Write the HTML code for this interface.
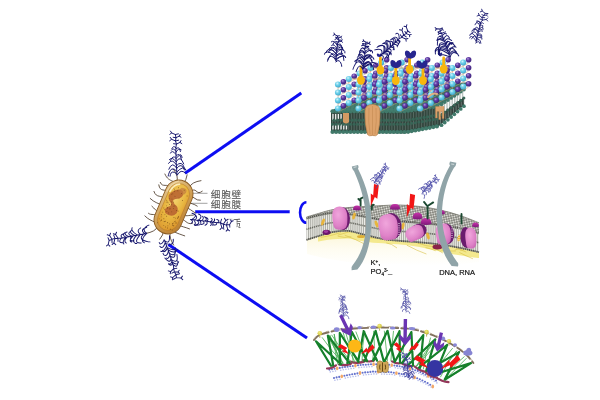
<!DOCTYPE html>
<html lang="zh"><head><meta charset="utf-8"><title>抗菌机制示意图</title>
<style>
html,body{margin:0;padding:0;background:#fff;}
body{width:600px;height:400px;overflow:hidden;font-family:"Liberation Sans","Noto Sans CJK SC",sans-serif;}
svg{display:block}
.lab{font-family:"Liberation Sans","Noto Sans CJK SC",sans-serif;font-size:9.6px;letter-spacing:0.75px;fill:#585858;stroke:#585858;stroke-width:0.12px;}
.ion{font-family:"Liberation Sans","Noto Sans CJK SC",sans-serif;font-size:7.5px;fill:#1c1c1c;stroke:#1c1c1c;stroke-width:0.22px;}
</style></head><body>
<svg width="600" height="400" viewBox="0 0 600 400">
<defs>
<filter id="soft" x="0" y="0" width="600" height="400" filterUnits="userSpaceOnUse"><feGaussianBlur stdDeviation="0.45"/></filter>
<clipPath id="clip3"><path d="M236.6 216h7v13h-7zM233.6 216h4v4.6h-4z"/></clipPath>
<linearGradient id="bacOuter" x1="0" y1="0" x2="1" y2="1">
<stop offset="0" stop-color="#e6cc98"/><stop offset="0.5" stop-color="#d0a055"/><stop offset="1" stop-color="#b87a2a"/>
</linearGradient>
<radialGradient id="bacInner" cx="0.45" cy="0.35" r="0.75">
<stop offset="0" stop-color="#f2d06a"/><stop offset="0.55" stop-color="#e8b640"/><stop offset="1" stop-color="#d8902a"/>
</radialGradient>
<radialGradient id="sc" cx="0.38" cy="0.32" r="0.75">
<stop offset="0" stop-color="#d4f4fc"/><stop offset="0.4" stop-color="#6cd0ea"/><stop offset="1" stop-color="#3aa2c8"/>
</radialGradient>
<radialGradient id="sp" cx="0.38" cy="0.32" r="0.75">
<stop offset="0" stop-color="#b39ade"/><stop offset="0.35" stop-color="#6440a8"/><stop offset="1" stop-color="#351a70"/>
</radialGradient>
<radialGradient id="pink" cx="0.4" cy="0.35" r="0.8">
<stop offset="0" stop-color="#f0a6dc"/><stop offset="0.6" stop-color="#df83c8"/><stop offset="1" stop-color="#c25fae"/>
</radialGradient>
<linearGradient id="mag" x1="0" y1="0" x2="0" y2="1">
<stop offset="0" stop-color="#c934ac"/><stop offset="1" stop-color="#7c1a78"/>
</linearGradient>
<linearGradient id="cream" x1="0" y1="0" x2="0" y2="1">
<stop offset="0" stop-color="#fbf5d4"/><stop offset="0.5" stop-color="#fefcf0"/><stop offset="1" stop-color="#ffffff"/>
</linearGradient>
<pattern id="hatch" width="2.4" height="2.4" patternUnits="userSpaceOnUse" patternTransform="rotate(-12)">
<rect width="2.4" height="2.4" fill="#7a7b73"/><circle cx="1.2" cy="1.2" r="0.9" fill="#f0f0ea"/>
</pattern>
<radialGradient id="yel" cx="0.4" cy="0.35" r="0.7">
<stop offset="0" stop-color="#f2ec80"/><stop offset="1" stop-color="#c9bb2e"/>
</radialGradient>

</defs>
<rect width="600" height="400" fill="#fff"/>
<g filter="url(#soft)">
<g stroke="#0b0bf2" stroke-width="3" fill="none" stroke-linecap="butt"><path d="M185 173.3L301.3 93"/><path d="M195.2 211.7H289.7"/><path d="M168.4 244.4L307 338"/><path d="M306.4 202.2A6.4 10.3 0 0 0 306.4 222.8" stroke-width="2.5"/></g>
<path d="M189 193.3H207.5M190 203.3H207.5" stroke="#8a8a8a" stroke-width="0.8" fill="none"/>
<text x="210.8" y="197.6" class="lab">细胞壁</text><text x="210.8" y="207.9" class="lab">细胞膜</text>
<g clip-path="url(#clip3)"><text x="210.8" y="227.4" class="lab">细胞质</text></g>
<path d="M227 219.2h5.5" stroke="#b0b0b0" stroke-width="0.7"/>
<g transform="translate(173.5 207) rotate(23)">
<path d="M-11 -23.4c-3.4 -0.1 -5.9 0.1 -9.8 -3.6M-11 -16.5c-3.8 -3.7 -6.5 3.7 -10.8 -1M-11 -11.1c-3.9 -3.6 -6.7 3.6 -11.2 -3.5M-11 -4c-4.6 -3.3 -7.9 3.3 -13.1 -2.7M-11 2.9c-4.8 -0.5 -8.2 0.5 -13.7 -1.6M-11 10c-3.2 1.2 -5.5 -1.2 -9.2 -2.3M-11 14.7c-3.4 -2.1 -5.8 2.1 -9.6 0.9M-11 21.2c-4.2 -0.2 -7.1 0.2 -11.9 -1.8M11 -22.9c3.3 -3.6 5.6 3.6 9.3 -2.8M11 -16.2c3.9 -2.1 6.7 2.1 11.1 -0.5M11 -10.3c3.7 0.8 6.3 -0.8 10.5 0.2M11 -4.3c4.2 -0.8 7.1 0.8 11.9 1.3M11 3.1c3.7 1.9 6.3 -1.9 10.4 -3.3M11 8.8c4.5 -3.1 7.7 3.1 12.8 -1.1M11 14.5c4.3 0.6 7.4 -0.6 12.3 -0.6M11 22.6c3.7 0.2 6.3 -0.2 10.6 -0.4M-7 -25q0.3 -5 -8 -10M-7 25q-0.2 5 -8 10M0 -25q1.4 -5 0 -10M0 25q1.8 5 0 10M7 -25q-0.1 -5 8 -10M7 25q0.7 5 8 10" fill="none" stroke="#4a3a2a" stroke-width="0.75" stroke-linecap="round"/>
<rect x="-14" y="-28" width="28" height="56" rx="14" fill="url(#bacOuter)" stroke="#8a5a20" stroke-width="0.9"/>
<rect x="-10.6" y="-24.6" width="21.2" height="49.2" rx="10.6" fill="url(#bacInner)" stroke="#b87a24" stroke-width="0.5"/>
<path transform="translate(0 -3) scale(1.3)" d="M-4 -10q5 -4 7 0q1 4 -4 6q-3 2 1 4q5 1 4 6q-2 5 -8 3q-3 -3 1 -6q2 -2 -2 -4q-4 -4 1 -9z" fill="#b1562a" opacity="0.78"/>
<path d="M0 -21q6 -2 6 3q-1 4 -5 3q-4 -2 -1 -6z" fill="#c27a3e" opacity="0.7"/>
<g fill="#6a3e10" opacity="0.75"><circle cx="-7.9" cy="8.9" r="0.45"/><circle cx="2.6" cy="21.7" r="0.45"/><circle cx="5.8" cy="-9.5" r="0.45"/><circle cx="-2.1" cy="7.4" r="0.45"/><circle cx="-8.6" cy="-1.7" r="0.45"/><circle cx="-6" cy="-16.8" r="0.45"/><circle cx="-7.9" cy="11.8" r="0.45"/><circle cx="-6.7" cy="-11.1" r="0.45"/><circle cx="-2" cy="16.3" r="0.45"/><circle cx="-7.5" cy="-2.2" r="0.45"/><circle cx="0.9" cy="16.9" r="0.45"/><circle cx="5.7" cy="16" r="0.45"/><circle cx="-4" cy="-3.7" r="0.45"/><circle cx="-2.5" cy="16.9" r="0.45"/><circle cx="8.2" cy="-15.4" r="0.45"/><circle cx="-5.8" cy="-11.8" r="0.45"/><circle cx="-4.8" cy="-0.7" r="0.45"/><circle cx="1.6" cy="-10.4" r="0.45"/><circle cx="-8.9" cy="-3.6" r="0.45"/><circle cx="-2.4" cy="2.9" r="0.45"/><circle cx="8.2" cy="8.4" r="0.45"/><circle cx="0.3" cy="5.2" r="0.45"/><circle cx="3.2" cy="-19.6" r="0.45"/><circle cx="7.2" cy="12.3" r="0.45"/><circle cx="6.7" cy="13.1" r="0.45"/><circle cx="-1.9" cy="-4.4" r="0.45"/><circle cx="-7.1" cy="5.9" r="0.45"/><circle cx="-7.9" cy="-19" r="0.45"/><circle cx="-5.2" cy="-14.9" r="0.45"/><circle cx="-2.9" cy="-19.7" r="0.45"/><circle cx="-9" cy="-15.3" r="0.45"/><circle cx="-7.2" cy="-6" r="0.45"/><circle cx="-8.5" cy="16.5" r="0.45"/><circle cx="2.1" cy="-15.5" r="0.45"/><circle cx="-4.5" cy="-6.7" r="0.45"/><circle cx="-2.4" cy="-16.6" r="0.45"/><circle cx="6.3" cy="21.7" r="0.45"/><circle cx="-0.6" cy="-0.7" r="0.45"/><circle cx="-7.5" cy="-17.5" r="0.45"/><circle cx="-2.8" cy="-10.4" r="0.45"/><circle cx="5.9" cy="1.9" r="0.45"/><circle cx="-8.6" cy="20.8" r="0.45"/><circle cx="0.5" cy="1.5" r="0.45"/><circle cx="0.8" cy="-1.4" r="0.45"/><circle cx="0.5" cy="21.5" r="0.45"/><circle cx="6.5" cy="14.7" r="0.45"/><circle cx="-4.3" cy="6.8" r="0.45"/><circle cx="-6" cy="16.5" r="0.45"/><circle cx="0.6" cy="16.7" r="0.45"/><circle cx="-3.1" cy="3.4" r="0.45"/><circle cx="5.6" cy="21.6" r="0.45"/><circle cx="6.3" cy="17.3" r="0.45"/><circle cx="5.7" cy="15.8" r="0.45"/><circle cx="-4.9" cy="10.4" r="0.45"/><circle cx="-2.6" cy="-1.3" r="0.45"/><circle cx="-8.5" cy="4.7" r="0.45"/><circle cx="-4.3" cy="14.6" r="0.45"/><circle cx="8.2" cy="8.7" r="0.45"/><circle cx="7.9" cy="21.7" r="0.45"/><circle cx="8.2" cy="6.8" r="0.45"/><circle cx="-5" cy="3.4" r="0.45"/><circle cx="-5.5" cy="2.9" r="0.45"/><circle cx="2.2" cy="19.6" r="0.45"/><circle cx="6.1" cy="9.5" r="0.45"/><circle cx="2.8" cy="17.2" r="0.45"/><circle cx="-7.5" cy="13.9" r="0.45"/><circle cx="7.4" cy="16.8" r="0.45"/><circle cx="4.5" cy="9.5" r="0.45"/><circle cx="-5.8" cy="16.9" r="0.45"/><circle cx="-3" cy="17.2" r="0.45"/><circle cx="8.5" cy="7.5" r="0.45"/><circle cx="-1.8" cy="20.7" r="0.45"/><circle cx="4" cy="2.1" r="0.45"/><circle cx="-6.7" cy="1.6" r="0.45"/><circle cx="7.3" cy="17.4" r="0.45"/><circle cx="-6.4" cy="17.8" r="0.45"/><circle cx="8.6" cy="13.8" r="0.45"/><circle cx="-2.7" cy="11.2" r="0.45"/><circle cx="-6.6" cy="-1.7" r="0.45"/><circle cx="8.5" cy="13.6" r="0.45"/></g>
<path d="M-9.4 -13q1 -8 6 -10.4" fill="none" stroke="#fff6cc" stroke-width="1.7" stroke-linecap="round" opacity="0.85"/>
<path d="M-12.3 -12q0.6 -9 7 -14" fill="none" stroke="#f3dcae" stroke-width="1.1" stroke-linecap="round" opacity="0.8"/>
</g>
<path transform="translate(177 174.5) rotate(-2)" d="M0 0Q-0.8 -13.6 -0.2 -27.2M0 -0.4Q-5 -5.3 -6.7 0l-0.3 1.5M0 0.8Q4.2 -6.2 8.3 -1.1M-0.1 -3.4Q-5.6 -9.6 -8.5 -0.3l-0.3 1.5M-0.1 -2.5Q6.9 -9.5 9.1 -4.4M-0.2 -6.4Q-4.3 -13.9 -8 -5.5M-0.2 -6Q5 -12.7 7.5 -4.4M-0.2 -9.6Q-4.3 -16.9 -8.1 -11.4M-0.2 -8.8Q5.1 -14.8 7.9 -5.6l0.3 1.5M-0.3 -12.8Q-4.2 -18.4 -7.1 -15.2M-0.3 -12.9Q4 -20 7.1 -10.3M-0.3 -16.1Q-3.3 -20.4 -6.1 -14.2M-0.3 -16Q4.6 -22 5.3 -18.2l0.3 1.5M-0.3 -20.1Q-4 -25.5 -5.8 -21.6M-0.3 -18.4Q3.1 -22.8 4.7 -15.9l0.3 1.5M-0.3 -23.3Q-2.7 -27.5 -4.7 -24.5M-0.3 -22.2Q2.3 -26.9 5 -24.7M-0.2 -26.7Q-2.6 -29.9 -4.3 -25.9M-0.2 -25.5Q2.7 -28.5 3.9 -24.3l0.3 1.5M-0.2 -27.2l0.7 -3.2l3.6 -1.6l1.1 -1.8m-1.1 1.8l1.8 1.3M0.5 -30.4l-2.9 -0.5M0.5 -30.4l-0.8 -3.2l-3.9 -1.8l-1.2 -1.9m1.2 1.9l-1.9 1.4M-0.3 -33.6l3.1 -0.6M-0.3 -33.6l0.5 -3.2l3.4 -1.5l1 -1.7m-1 1.7l1.7 1.2M0.2 -36.8l-2.7 -0.5M0.2 -36.8l-0.4 -3.2l-3.7 -1.7l-1.1 -1.9m1.1 1.9l-1.9 1.3M-0.2 -40l3 -0.6M-0.2 -40" fill="none" stroke="#18186e" stroke-width="0.95" stroke-linecap="round" stroke-linejoin="round"/>
<path transform="translate(146.5 233.5) rotate(-101)" d="M0 0Q0.4 -12.9 0.1 -25.8M0 0.2Q-5.4 -8.3 -8.8 -3.8M0 0.3Q5.1 -4.7 7.5 2.5l0.3 1.5M0 -3Q-4.4 -10.3 -8.6 0.4l-0.3 1.5M0 -1.6Q5 -6.5 6.1 1.4M0.1 -6.4Q-6.7 -14.9 -8 -8.4l-0.3 1.5M0.1 -5.9Q4.8 -10.3 6.6 -4.6M0.1 -10.1Q-4.6 -16.9 -7.7 -12.8l-0.3 1.5M0.1 -9.2Q6 -15.4 8.4 -13M0.1 -13.6Q-4.3 -19.6 -5.5 -16.1M0.1 -11.8Q4.4 -17.4 6.1 -14.4M0.1 -15.3Q-4.2 -19.6 -5.1 -13.5M0.1 -14.9Q3.3 -20.3 5.8 -14.4M0.1 -19.8Q-2.9 -24.5 -5.6 -21.6M0.1 -17.8Q3.5 -22.9 4.9 -20.3l0.3 1.5M0.1 -21.5Q-3.6 -25.7 -6 -24.2M0.1 -20.9Q2.9 -24.6 4.9 -21.4M0.1 -25.7Q-3.8 -30.6 -4.7 -24.6M0.1 -24.2Q3.4 -27.5 4.1 -22.5M0.1 -25.8l0.7 -3l4.1 -1.8l1.2 -2m-1.2 2l2 1.4M0.8 -28.9l-3.3 -0.6M0.8 -28.9l0.4 -3l-4.2 -1.9l-1.3 -2.1m1.3 2.1l-2.1 1.5M1.2 -31.9l3.4 -0.6M1.2 -31.9l-0.3 -3l4.1 -1.8l1.2 -2.1m-1.2 2.1l2.1 1.4M0.8 -35l-3.3 -0.6M0.8 -35l-0.5 -3l-3.8 -1.7l-1.1 -1.9m1.1 1.9l-1.9 1.3M0.3 -38l3 -0.6M0.3 -38" fill="none" stroke="#18186e" stroke-width="0.95" stroke-linecap="round" stroke-linejoin="round"/>
<path transform="translate(164.5 240.5) rotate(161)" d="M0 0Q-0.8 -13.3 -0.2 -26.5M0 -0.2Q-3.7 -6.2 -6.3 3M0 0.9Q3.2 -2.9 5.4 -1.7l0.3 1.5M-0.1 -3.1Q-7.2 -9 -8.7 -1.6M-0.1 -2.1Q4.5 -8.5 6.3 -4M-0.2 -7.6Q-6 -14 -8.1 -10.6M-0.2 -5.8Q5.2 -10.8 7 -9M-0.2 -9.4Q-4.8 -16.6 -9.2 -12.8M-0.2 -8Q2.6 -11.3 4.8 -10.1l0.3 1.5M-0.3 -13.4Q-3.9 -18.7 -6.8 -14.4l-0.3 1.5M-0.3 -11.1Q2.6 -16.6 5.3 -13.3l0.3 1.5M-0.3 -16.5Q-4 -21.7 -6 -15.1l-0.3 1.5M-0.3 -15.7Q3 -19.4 3.8 -17.2M-0.3 -20.3Q-5.1 -27 -6.9 -18.7l-0.3 1.5M-0.3 -19Q2.4 -24.5 5.4 -16.7M-0.3 -22.7Q-3.6 -28.4 -6.5 -24.8M-0.3 -22Q1.9 -25.4 3.6 -23.3M-0.3 -26Q-3.2 -30.4 -5.5 -25.2l-0.3 1.5M-0.3 -24.3Q2.3 -27 3.9 -23.4M-0.2 -26.5l0.6 -3.1l3.9 -1.8l1.2 -2m-1.2 2l2 1.4M0.4 -29.6l-3.1 -0.6M0.4 -29.6l0.5 -3.1l-3.4 -1.5l-1 -1.7m1 1.7l-1.7 1.2M0.9 -32.8l2.7 -0.5M0.9 -32.8l-0.6 -3.1l3.9 -1.8l1.2 -2m-1.2 2l2 1.4M0.2 -35.9l-3.2 -0.6M0.2 -35.9l0.6 -3.1l-4.1 -1.9l-1.2 -2.1m1.2 2.1l-2.1 1.4M0.8 -39l3.3 -0.6M0.8 -39" fill="none" stroke="#18186e" stroke-width="0.95" stroke-linecap="round" stroke-linejoin="round"/>
<path transform="translate(191 219.5) rotate(97)" d="M0 0Q-0.1 -13.3 0 -26.5M0 -0.6Q-3.8 -5.8 -5.9 -3M0 0.6Q2.1 -3.7 3.9 -0.4M0 -3.5Q-3.2 -8.1 -6 -1.7l-0.3 1.5M0 -2.4Q3.3 -6.4 4.7 -3.8M0 -7.3Q-4 -11.5 -6 -8.2l-0.3 1.5M0 -6.2Q3 -11.2 5.2 -4.1M0 -10.5Q-2.7 -13.4 -4.6 -11M0 -9Q4 -12.9 5.1 -6.4l0.3 1.5M0 -14Q-2.7 -16.9 -4.4 -12.7M0 -11.6Q2.3 -15.7 3.7 -11M-0.1 -15.8Q-2.9 -18.7 -4 -14.1M-0.1 -15.4Q1.9 -18 4 -14.7M-0.1 -19.5Q-2.4 -22.6 -3.6 -19.9M-0.1 -18.8Q1.8 -22 3.6 -20.1M0 -22.1Q-1.7 -24.3 -3.5 -23.2M0 -21.1Q1.8 -23.4 3 -21.9M0 -26.4Q-1.6 -29.2 -2.8 -27.1l-0.3 1.5M0 -25Q1.5 -27.2 2.5 -24.6l0.3 1.5M0 -26.5l-0.3 -3.1l4.5 -2l1.4 -2.3m-1.4 2.3l2.3 1.6M-0.4 -29.6l-3.6 -0.7M-0.4 -29.6l1.2 -3.1l-4.1 -1.9l-1.2 -2.1m1.2 2.1l-2.1 1.5M0.8 -32.8l3.3 -0.6M0.8 -32.8l0.5 -3.1l4 -1.8l1.2 -2m-1.2 2l2 1.4M1.2 -35.9l-3.2 -0.6M1.2 -35.9l-0.9 -3.1l-3.2 -1.4l-1 -1.6m1 1.6l-1.6 1.1M0.4 -39l2.5 -0.5M0.4 -39" fill="none" stroke="#18186e" stroke-width="0.95" stroke-linecap="round" stroke-linejoin="round"/>
<g id="topfig">
<path d="M331 110.5L357 98.5L385 90L470 82L464 89L439 106L405 110.5Z" fill="#3c6e60"/>
<path d="M331 110L405 110.5L439 105.5V126.5L405 133.5L331 132.5Z" fill="#31463e"/>
<path d="M439 105.5L464 89V105L439 126Z" fill="#33433d"/>
<path d="M439 105.5L464 89V97L439 115Z" fill="#b9c3bf"/>
<path d="M332.5 113.3V130M335.2 113.3V130M337.9 113.3V130M340.6 113.3V130M343.3 113.3V130M346 113.3V130M348.7 113.3V130M351.4 113.3V130M354.1 113.3V130M356.8 113.3V130M359.5 113.3V130M362.2 113.3V130M364.9 113.3V130M367.6 113.3V130M370.3 113.3V130M373 113.3V130M375.7 113.3V130M378.4 113.3V130M381.1 113.3V130M383.8 113.3V130M386.5 113.3V130M389.2 113.3V130M391.9 113.3V130M394.6 113.3V130M397.3 113.3V130M400 113.3V130M402.7 113.3V130M405.4 113.2V130.3M408.1 112.8V129.8M410.8 112.4V129.3M413.5 112V128.8M416.2 111.6V128.3M418.9 111.2V127.8M421.6 110.8V127.3M424.3 110.3V126.8M427 109.9V126.3M429.7 109.5V125.8M432.4 109.1V125.2M435.1 108.7V124.7M437.8 108.3V124.2" stroke="#8f9d97" stroke-width="0.9" opacity="0.42"/>
<path d="M333 114V120M333 124V129.5M335.7 114V120M335.7 124V129.5M338.4 114V120M338.4 124V129.5M341.1 114V120M341.1 124V129.5M343.8 114V120M343.8 124V129.5M346.5 114V120M346.5 124V129.5" stroke="#fff" stroke-width="1.3" opacity="0.9"/>
<path d="M440.5 106V114.5M443.1 104.3V112.6M445.7 102.6V110.7M448.3 100.8V108.7M450.9 99.1V106.8M453.5 97.4V104.9M456.1 95.7V103M458.7 94V101.1M461.3 92.2V99.1M463.9 90.5V97.2" stroke="#ffffff" stroke-width="1.2"/>
<path d="M440.5 117V124M443.1 115.1V121.7M445.7 113.2V119.5M448.3 111.2V117.2M450.9 109.3V114.9M453.5 107.4V112.7M456.1 105.5V110.4M458.7 103.6V108.1M461.3 101.6V105.8M463.9 99.7V103.6" stroke="#93a19b" stroke-width="0.9" opacity="0.6"/>
<g fill="#376556"><circle cx="334.1" cy="120.2" r="1.6"/><circle cx="332.5" cy="124.2" r="1.5"/><circle cx="337.7" cy="120.2" r="1.6"/><circle cx="336.1" cy="124.2" r="1.5"/><circle cx="341.3" cy="120.2" r="1.6"/><circle cx="339.7" cy="124.2" r="1.5"/><circle cx="344.9" cy="120.2" r="1.6"/><circle cx="343.3" cy="124.2" r="1.5"/><circle cx="348.5" cy="120.2" r="1.6"/><circle cx="346.9" cy="124.2" r="1.5"/><circle cx="352.1" cy="120.2" r="1.6"/><circle cx="350.5" cy="124.2" r="1.5"/><circle cx="355.7" cy="120.2" r="1.6"/><circle cx="354.1" cy="124.2" r="1.5"/><circle cx="359.3" cy="120.2" r="1.6"/><circle cx="357.7" cy="124.2" r="1.5"/><circle cx="362.9" cy="120.2" r="1.6"/><circle cx="361.3" cy="124.2" r="1.5"/><circle cx="366.5" cy="120.2" r="1.6"/><circle cx="364.9" cy="124.2" r="1.5"/><circle cx="370.1" cy="120.2" r="1.6"/><circle cx="368.5" cy="124.2" r="1.5"/><circle cx="373.7" cy="120.2" r="1.6"/><circle cx="372.1" cy="124.2" r="1.5"/><circle cx="377.3" cy="120.2" r="1.6"/><circle cx="375.7" cy="124.2" r="1.5"/><circle cx="380.9" cy="120.2" r="1.6"/><circle cx="379.3" cy="124.2" r="1.5"/><circle cx="384.5" cy="120.2" r="1.6"/><circle cx="382.9" cy="124.2" r="1.5"/><circle cx="388.1" cy="120.2" r="1.6"/><circle cx="386.5" cy="124.2" r="1.5"/><circle cx="391.7" cy="120.2" r="1.6"/><circle cx="390.1" cy="124.2" r="1.5"/><circle cx="395.3" cy="120.2" r="1.6"/><circle cx="393.7" cy="124.2" r="1.5"/><circle cx="398.9" cy="120.2" r="1.6"/><circle cx="397.3" cy="124.2" r="1.5"/><circle cx="402.5" cy="120.2" r="1.6"/><circle cx="400.9" cy="124.2" r="1.5"/><circle cx="406.1" cy="120.2" r="1.6"/><circle cx="404.5" cy="124.2" r="1.5"/><circle cx="409.7" cy="119.8" r="1.6"/><circle cx="408.1" cy="123.9" r="1.5"/><circle cx="413.3" cy="119.2" r="1.6"/><circle cx="411.7" cy="123.3" r="1.5"/><circle cx="416.9" cy="118.6" r="1.6"/><circle cx="415.3" cy="122.7" r="1.5"/><circle cx="420.5" cy="118" r="1.6"/><circle cx="418.9" cy="122.1" r="1.5"/><circle cx="424.1" cy="117.4" r="1.6"/><circle cx="422.5" cy="121.5" r="1.5"/><circle cx="427.7" cy="116.8" r="1.6"/><circle cx="426.1" cy="120.9" r="1.5"/><circle cx="431.3" cy="116.1" r="1.6"/><circle cx="429.7" cy="120.2" r="1.5"/><circle cx="434.9" cy="115.5" r="1.6"/><circle cx="433.3" cy="119.6" r="1.5"/><circle cx="438.5" cy="114.9" r="1.6"/><circle cx="436.9" cy="119" r="1.5"/><circle cx="441.5" cy="114.7" r="1.5"/><circle cx="444.7" cy="112.3" r="1.5"/><circle cx="447.9" cy="109.9" r="1.5"/><circle cx="451.1" cy="107.5" r="1.5"/><circle cx="454.3" cy="105.1" r="1.5"/><circle cx="457.5" cy="102.7" r="1.5"/><circle cx="460.7" cy="100.3" r="1.5"/><circle cx="463.9" cy="97.9" r="1.5"/></g>
<g fill="#41796a"><circle cx="332.5" cy="111.3" r="2.1"/><circle cx="332.5" cy="132" r="2.1"/><circle cx="336.1" cy="111.3" r="2.1"/><circle cx="336.1" cy="132" r="2.1"/><circle cx="339.7" cy="111.3" r="2.1"/><circle cx="339.7" cy="132" r="2.1"/><circle cx="343.3" cy="111.3" r="2.1"/><circle cx="343.3" cy="132" r="2.1"/><circle cx="346.9" cy="111.3" r="2.1"/><circle cx="346.9" cy="132" r="2.1"/><circle cx="350.5" cy="111.3" r="2.1"/><circle cx="350.5" cy="132" r="2.1"/><circle cx="354.1" cy="111.3" r="2.1"/><circle cx="354.1" cy="132" r="2.1"/><circle cx="357.7" cy="111.3" r="2.1"/><circle cx="357.7" cy="132" r="2.1"/><circle cx="361.3" cy="111.3" r="2.1"/><circle cx="361.3" cy="132" r="2.1"/><circle cx="364.9" cy="111.3" r="2.1"/><circle cx="364.9" cy="132" r="2.1"/><circle cx="368.5" cy="111.3" r="2.1"/><circle cx="368.5" cy="132" r="2.1"/><circle cx="372.1" cy="111.3" r="2.1"/><circle cx="372.1" cy="132" r="2.1"/><circle cx="375.7" cy="111.3" r="2.1"/><circle cx="375.7" cy="132" r="2.1"/><circle cx="379.3" cy="111.3" r="2.1"/><circle cx="379.3" cy="132" r="2.1"/><circle cx="382.9" cy="111.3" r="2.1"/><circle cx="382.9" cy="132" r="2.1"/><circle cx="386.5" cy="111.3" r="2.1"/><circle cx="386.5" cy="132" r="2.1"/><circle cx="390.1" cy="111.3" r="2.1"/><circle cx="390.1" cy="132" r="2.1"/><circle cx="393.7" cy="111.3" r="2.1"/><circle cx="393.7" cy="132" r="2.1"/><circle cx="397.3" cy="111.3" r="2.1"/><circle cx="397.3" cy="132" r="2.1"/><circle cx="400.9" cy="111.3" r="2.1"/><circle cx="400.9" cy="132" r="2.1"/><circle cx="404.5" cy="111.3" r="2.1"/><circle cx="404.5" cy="132" r="2.1"/><circle cx="408.1" cy="110.8" r="2.1"/><circle cx="408.1" cy="131.8" r="2.1"/><circle cx="411.7" cy="110.3" r="2.1"/><circle cx="411.7" cy="131.1" r="2.1"/><circle cx="415.3" cy="109.7" r="2.1"/><circle cx="415.3" cy="130.5" r="2.1"/><circle cx="418.9" cy="109.2" r="2.1"/><circle cx="418.9" cy="129.8" r="2.1"/><circle cx="422.5" cy="108.6" r="2.1"/><circle cx="422.5" cy="129.1" r="2.1"/><circle cx="426.1" cy="108.1" r="2.1"/><circle cx="426.1" cy="128.4" r="2.1"/><circle cx="429.7" cy="107.5" r="2.1"/><circle cx="429.7" cy="127.8" r="2.1"/><circle cx="433.3" cy="107" r="2.1"/><circle cx="433.3" cy="127.1" r="2.1"/><circle cx="436.9" cy="106.4" r="2.1"/><circle cx="436.9" cy="126.4" r="2.1"/><circle cx="441.5" cy="104.2" r="1.9"/><circle cx="441.5" cy="125.2" r="1.9"/><circle cx="444.7" cy="102.1" r="1.9"/><circle cx="444.7" cy="122.5" r="1.9"/><circle cx="447.9" cy="100" r="1.9"/><circle cx="447.9" cy="119.8" r="1.9"/><circle cx="451.1" cy="97.9" r="1.9"/><circle cx="451.1" cy="117" r="1.9"/><circle cx="454.3" cy="95.8" r="1.9"/><circle cx="454.3" cy="114.3" r="1.9"/><circle cx="457.5" cy="93.7" r="1.9"/><circle cx="457.5" cy="111.6" r="1.9"/><circle cx="460.7" cy="91.6" r="1.9"/><circle cx="460.7" cy="108.9" r="1.9"/><circle cx="463.9" cy="89.5" r="1.9"/><circle cx="463.9" cy="106.2" r="1.9"/></g>
<g fill="#457f6f"><circle cx="337.6" cy="109.2" r="1.7"/><circle cx="341.2" cy="109.2" r="1.7"/><circle cx="344.8" cy="109.2" r="1.7"/><circle cx="348.4" cy="109.2" r="1.7"/><circle cx="352" cy="109.2" r="1.7"/><circle cx="355.6" cy="109.2" r="1.7"/><circle cx="359.2" cy="109.2" r="1.7"/><circle cx="362.8" cy="109.2" r="1.7"/><circle cx="366.4" cy="109.2" r="1.7"/><circle cx="370" cy="109.2" r="1.7"/><circle cx="373.6" cy="109.2" r="1.7"/><circle cx="377.2" cy="109.2" r="1.7"/><circle cx="380.8" cy="109.2" r="1.7"/><circle cx="384.4" cy="109.2" r="1.7"/><circle cx="388" cy="109.2" r="1.7"/><circle cx="391.6" cy="109.2" r="1.7"/><circle cx="395.2" cy="109.2" r="1.7"/><circle cx="398.8" cy="109.2" r="1.7"/><circle cx="402.4" cy="109.2" r="1.7"/><circle cx="406" cy="109" r="1.7"/><circle cx="409.6" cy="108.5" r="1.7"/><circle cx="413.2" cy="107.9" r="1.7"/><circle cx="416.8" cy="107.4" r="1.7"/><circle cx="420.4" cy="106.8" r="1.7"/><circle cx="424" cy="106.3" r="1.7"/><circle cx="427.6" cy="105.7" r="1.7"/><circle cx="431.2" cy="105.2" r="1.7"/><circle cx="434.8" cy="104.6" r="1.7"/><circle cx="438.4" cy="104.1" r="1.7"/><circle cx="341.8" cy="107.1" r="1.7"/><circle cx="345.4" cy="107.1" r="1.7"/><circle cx="349" cy="107.1" r="1.7"/><circle cx="352.6" cy="107.1" r="1.7"/><circle cx="356.2" cy="107.1" r="1.7"/><circle cx="359.8" cy="107.1" r="1.7"/><circle cx="363.4" cy="107.1" r="1.7"/><circle cx="367" cy="107.1" r="1.7"/><circle cx="370.6" cy="107.1" r="1.7"/><circle cx="374.2" cy="107.1" r="1.7"/><circle cx="377.8" cy="107.1" r="1.7"/><circle cx="381.4" cy="107.1" r="1.7"/><circle cx="385" cy="107.1" r="1.7"/><circle cx="388.6" cy="107.1" r="1.7"/><circle cx="392.2" cy="107.1" r="1.7"/><circle cx="395.8" cy="107.1" r="1.7"/><circle cx="399.4" cy="107.1" r="1.7"/><circle cx="403" cy="107.1" r="1.7"/><circle cx="406.6" cy="106.9" r="1.7"/><circle cx="410.2" cy="106.3" r="1.7"/><circle cx="413.8" cy="105.8" r="1.7"/><circle cx="417.4" cy="105.2" r="1.7"/><circle cx="421" cy="104.7" r="1.7"/><circle cx="424.6" cy="104.1" r="1.7"/><circle cx="428.2" cy="103.6" r="1.7"/><circle cx="431.8" cy="103" r="1.7"/><circle cx="435.4" cy="102.5" r="1.7"/><circle cx="439" cy="101.9" r="1.7"/><circle cx="346" cy="105" r="1.7"/><circle cx="349.6" cy="105" r="1.7"/><circle cx="353.2" cy="105" r="1.7"/><circle cx="356.8" cy="105" r="1.7"/><circle cx="360.4" cy="105" r="1.7"/><circle cx="364" cy="105" r="1.7"/><circle cx="367.6" cy="105" r="1.7"/><circle cx="371.2" cy="105" r="1.7"/><circle cx="374.8" cy="105" r="1.7"/><circle cx="378.4" cy="105" r="1.7"/><circle cx="382" cy="105" r="1.7"/><circle cx="385.6" cy="105" r="1.7"/><circle cx="389.2" cy="105" r="1.7"/><circle cx="392.8" cy="105" r="1.7"/><circle cx="396.4" cy="105" r="1.7"/><circle cx="400" cy="105" r="1.7"/><circle cx="403.6" cy="105" r="1.7"/><circle cx="407.2" cy="104.7" r="1.7"/><circle cx="410.8" cy="104.1" r="1.7"/><circle cx="414.4" cy="103.6" r="1.7"/><circle cx="418" cy="103" r="1.7"/><circle cx="421.6" cy="102.5" r="1.7"/><circle cx="425.2" cy="101.9" r="1.7"/><circle cx="428.8" cy="101.4" r="1.7"/><circle cx="432.4" cy="100.8" r="1.7"/><circle cx="436" cy="100.3" r="1.7"/><circle cx="439.6" cy="99.7" r="1.7"/></g>
<path d="M338 108.5V84.5M348.8 103V79M359.6 97.5V73.5M370.4 92V68M381.2 86.5V62.5M338 112L386.6 87.2M338 104L386.6 79.2M338 96L386.6 71.2M338 88L386.6 63.2" stroke="#c79b72" stroke-width="0.8" fill="none" opacity="0.65"/>
<circle cx="386.6" cy="83.8" r="2.8" fill="url(#sp)"/><circle cx="386.6" cy="75.8" r="2.8" fill="url(#sp)"/><circle cx="386.6" cy="67.8" r="2.8" fill="url(#sp)"/><circle cx="386.6" cy="59.8" r="2.8" fill="url(#sp)"/><circle cx="381.2" cy="86.5" r="3.05" fill="url(#sc)"/><circle cx="381.2" cy="78.5" r="3.05" fill="url(#sc)"/><circle cx="381.2" cy="70.5" r="3.05" fill="url(#sc)"/><circle cx="381.2" cy="62.5" r="3.05" fill="url(#sc)"/><circle cx="375.8" cy="89.2" r="2.8" fill="url(#sp)"/><circle cx="375.8" cy="81.2" r="2.8" fill="url(#sp)"/><circle cx="375.8" cy="73.2" r="2.8" fill="url(#sp)"/><circle cx="375.8" cy="65.2" r="2.8" fill="url(#sp)"/><circle cx="370.4" cy="92" r="3.05" fill="url(#sc)"/><circle cx="370.4" cy="84" r="3.05" fill="url(#sc)"/><circle cx="370.4" cy="76" r="3.05" fill="url(#sc)"/><circle cx="370.4" cy="68" r="3.05" fill="url(#sc)"/><circle cx="365" cy="94.8" r="2.8" fill="url(#sp)"/><circle cx="365" cy="86.8" r="2.8" fill="url(#sp)"/><circle cx="365" cy="78.8" r="2.8" fill="url(#sp)"/><circle cx="365" cy="70.8" r="2.8" fill="url(#sp)"/><circle cx="359.6" cy="97.5" r="3.05" fill="url(#sc)"/><circle cx="359.6" cy="89.5" r="3.05" fill="url(#sc)"/><circle cx="359.6" cy="81.5" r="3.05" fill="url(#sc)"/><circle cx="359.6" cy="73.5" r="3.05" fill="url(#sc)"/><circle cx="354.2" cy="100.2" r="2.8" fill="url(#sp)"/><circle cx="354.2" cy="92.2" r="2.8" fill="url(#sp)"/><circle cx="354.2" cy="84.2" r="2.8" fill="url(#sp)"/><circle cx="354.2" cy="76.2" r="2.8" fill="url(#sp)"/><circle cx="348.8" cy="103" r="3.05" fill="url(#sc)"/><circle cx="348.8" cy="95" r="3.05" fill="url(#sc)"/><circle cx="348.8" cy="87" r="3.05" fill="url(#sc)"/><circle cx="348.8" cy="79" r="3.05" fill="url(#sc)"/><circle cx="343.4" cy="105.8" r="2.8" fill="url(#sp)"/><circle cx="343.4" cy="97.8" r="2.8" fill="url(#sp)"/><circle cx="343.4" cy="89.8" r="2.8" fill="url(#sp)"/><circle cx="343.4" cy="81.8" r="2.8" fill="url(#sp)"/><circle cx="338" cy="108.5" r="3.05" fill="url(#sc)"/><circle cx="338" cy="100.5" r="3.05" fill="url(#sc)"/><circle cx="338" cy="92.5" r="3.05" fill="url(#sc)"/><circle cx="338" cy="84.5" r="3.05" fill="url(#sc)"/>
<path d="M351.8 95h14.5M373.4 84h14.5M351.8 79h14.5M373.4 68h14.5" stroke="#d0a57c" stroke-width="0.9" fill="none"/>
<path d="M358.5 108.5V84.5M369.3 103V79M380.1 97.5V73.5M390.9 92V68M401.7 86.5V62.5M358.5 112L407.1 87.2M358.5 104L407.1 79.2M358.5 96L407.1 71.2M358.5 88L407.1 63.2" stroke="#c79b72" stroke-width="0.8" fill="none" opacity="0.65"/>
<circle cx="407.1" cy="83.8" r="2.8" fill="url(#sp)"/><circle cx="407.1" cy="75.8" r="2.8" fill="url(#sp)"/><circle cx="407.1" cy="67.8" r="2.8" fill="url(#sp)"/><circle cx="407.1" cy="59.8" r="2.8" fill="url(#sp)"/><circle cx="401.7" cy="86.5" r="3.05" fill="url(#sc)"/><circle cx="401.7" cy="78.5" r="3.05" fill="url(#sc)"/><circle cx="401.7" cy="70.5" r="3.05" fill="url(#sc)"/><circle cx="401.7" cy="62.5" r="3.05" fill="url(#sc)"/><circle cx="396.3" cy="89.2" r="2.8" fill="url(#sp)"/><circle cx="396.3" cy="81.2" r="2.8" fill="url(#sp)"/><circle cx="396.3" cy="73.2" r="2.8" fill="url(#sp)"/><circle cx="396.3" cy="65.2" r="2.8" fill="url(#sp)"/><circle cx="390.9" cy="92" r="3.05" fill="url(#sc)"/><circle cx="390.9" cy="84" r="3.05" fill="url(#sc)"/><circle cx="390.9" cy="76" r="3.05" fill="url(#sc)"/><circle cx="390.9" cy="68" r="3.05" fill="url(#sc)"/><circle cx="385.5" cy="94.8" r="2.8" fill="url(#sp)"/><circle cx="385.5" cy="86.8" r="2.8" fill="url(#sp)"/><circle cx="385.5" cy="78.8" r="2.8" fill="url(#sp)"/><circle cx="385.5" cy="70.8" r="2.8" fill="url(#sp)"/><circle cx="380.1" cy="97.5" r="3.05" fill="url(#sc)"/><circle cx="380.1" cy="89.5" r="3.05" fill="url(#sc)"/><circle cx="380.1" cy="81.5" r="3.05" fill="url(#sc)"/><circle cx="380.1" cy="73.5" r="3.05" fill="url(#sc)"/><circle cx="374.7" cy="100.2" r="2.8" fill="url(#sp)"/><circle cx="374.7" cy="92.2" r="2.8" fill="url(#sp)"/><circle cx="374.7" cy="84.2" r="2.8" fill="url(#sp)"/><circle cx="374.7" cy="76.2" r="2.8" fill="url(#sp)"/><circle cx="369.3" cy="103" r="3.05" fill="url(#sc)"/><circle cx="369.3" cy="95" r="3.05" fill="url(#sc)"/><circle cx="369.3" cy="87" r="3.05" fill="url(#sc)"/><circle cx="369.3" cy="79" r="3.05" fill="url(#sc)"/><circle cx="363.9" cy="105.8" r="2.8" fill="url(#sp)"/><circle cx="363.9" cy="97.8" r="2.8" fill="url(#sp)"/><circle cx="363.9" cy="89.8" r="2.8" fill="url(#sp)"/><circle cx="363.9" cy="81.8" r="2.8" fill="url(#sp)"/><circle cx="358.5" cy="108.5" r="3.05" fill="url(#sc)"/><circle cx="358.5" cy="100.5" r="3.05" fill="url(#sc)"/><circle cx="358.5" cy="92.5" r="3.05" fill="url(#sc)"/><circle cx="358.5" cy="84.5" r="3.05" fill="url(#sc)"/>
<path d="M372.3 95h14.5M393.9 84h14.5M372.3 79h14.5M393.9 68h14.5" stroke="#d0a57c" stroke-width="0.9" fill="none"/>
<path d="M379 108.5V84.5M389.8 103V79M400.6 97.5V73.5M411.4 92V68M422.2 86.5V62.5M379 112L427.6 87.2M379 104L427.6 79.2M379 96L427.6 71.2M379 88L427.6 63.2" stroke="#c79b72" stroke-width="0.8" fill="none" opacity="0.65"/>
<circle cx="427.6" cy="83.8" r="2.8" fill="url(#sp)"/><circle cx="427.6" cy="75.8" r="2.8" fill="url(#sp)"/><circle cx="427.6" cy="67.8" r="2.8" fill="url(#sp)"/><circle cx="427.6" cy="59.8" r="2.8" fill="url(#sp)"/><circle cx="422.2" cy="86.5" r="3.05" fill="url(#sc)"/><circle cx="422.2" cy="78.5" r="3.05" fill="url(#sc)"/><circle cx="422.2" cy="70.5" r="3.05" fill="url(#sc)"/><circle cx="422.2" cy="62.5" r="3.05" fill="url(#sc)"/><circle cx="416.8" cy="89.2" r="2.8" fill="url(#sp)"/><circle cx="416.8" cy="81.2" r="2.8" fill="url(#sp)"/><circle cx="416.8" cy="73.2" r="2.8" fill="url(#sp)"/><circle cx="416.8" cy="65.2" r="2.8" fill="url(#sp)"/><circle cx="411.4" cy="92" r="3.05" fill="url(#sc)"/><circle cx="411.4" cy="84" r="3.05" fill="url(#sc)"/><circle cx="411.4" cy="76" r="3.05" fill="url(#sc)"/><circle cx="411.4" cy="68" r="3.05" fill="url(#sc)"/><circle cx="406" cy="94.8" r="2.8" fill="url(#sp)"/><circle cx="406" cy="86.8" r="2.8" fill="url(#sp)"/><circle cx="406" cy="78.8" r="2.8" fill="url(#sp)"/><circle cx="406" cy="70.8" r="2.8" fill="url(#sp)"/><circle cx="400.6" cy="97.5" r="3.05" fill="url(#sc)"/><circle cx="400.6" cy="89.5" r="3.05" fill="url(#sc)"/><circle cx="400.6" cy="81.5" r="3.05" fill="url(#sc)"/><circle cx="400.6" cy="73.5" r="3.05" fill="url(#sc)"/><circle cx="395.2" cy="100.2" r="2.8" fill="url(#sp)"/><circle cx="395.2" cy="92.2" r="2.8" fill="url(#sp)"/><circle cx="395.2" cy="84.2" r="2.8" fill="url(#sp)"/><circle cx="395.2" cy="76.2" r="2.8" fill="url(#sp)"/><circle cx="389.8" cy="103" r="3.05" fill="url(#sc)"/><circle cx="389.8" cy="95" r="3.05" fill="url(#sc)"/><circle cx="389.8" cy="87" r="3.05" fill="url(#sc)"/><circle cx="389.8" cy="79" r="3.05" fill="url(#sc)"/><circle cx="384.4" cy="105.8" r="2.8" fill="url(#sp)"/><circle cx="384.4" cy="97.8" r="2.8" fill="url(#sp)"/><circle cx="384.4" cy="89.8" r="2.8" fill="url(#sp)"/><circle cx="384.4" cy="81.8" r="2.8" fill="url(#sp)"/><circle cx="379" cy="108.5" r="3.05" fill="url(#sc)"/><circle cx="379" cy="100.5" r="3.05" fill="url(#sc)"/><circle cx="379" cy="92.5" r="3.05" fill="url(#sc)"/><circle cx="379" cy="84.5" r="3.05" fill="url(#sc)"/>
<path d="M392.8 95h14.5M414.4 84h14.5M392.8 79h14.5M414.4 68h14.5" stroke="#d0a57c" stroke-width="0.9" fill="none"/>
<path d="M399.5 108.5V84.5M410.3 103V79M421.1 97.5V73.5M431.9 92V68M442.7 86.5V62.5M399.5 112L448.1 87.2M399.5 104L448.1 79.2M399.5 96L448.1 71.2M399.5 88L448.1 63.2" stroke="#c79b72" stroke-width="0.8" fill="none" opacity="0.65"/>
<circle cx="448.1" cy="83.8" r="2.8" fill="url(#sp)"/><circle cx="448.1" cy="75.8" r="2.8" fill="url(#sp)"/><circle cx="448.1" cy="67.8" r="2.8" fill="url(#sp)"/><circle cx="448.1" cy="59.8" r="2.8" fill="url(#sp)"/><circle cx="442.7" cy="86.5" r="3.05" fill="url(#sc)"/><circle cx="442.7" cy="78.5" r="3.05" fill="url(#sc)"/><circle cx="442.7" cy="70.5" r="3.05" fill="url(#sc)"/><circle cx="442.7" cy="62.5" r="3.05" fill="url(#sc)"/><circle cx="437.3" cy="89.2" r="2.8" fill="url(#sp)"/><circle cx="437.3" cy="81.2" r="2.8" fill="url(#sp)"/><circle cx="437.3" cy="73.2" r="2.8" fill="url(#sp)"/><circle cx="437.3" cy="65.2" r="2.8" fill="url(#sp)"/><circle cx="431.9" cy="92" r="3.05" fill="url(#sc)"/><circle cx="431.9" cy="84" r="3.05" fill="url(#sc)"/><circle cx="431.9" cy="76" r="3.05" fill="url(#sc)"/><circle cx="431.9" cy="68" r="3.05" fill="url(#sc)"/><circle cx="426.5" cy="94.8" r="2.8" fill="url(#sp)"/><circle cx="426.5" cy="86.8" r="2.8" fill="url(#sp)"/><circle cx="426.5" cy="78.8" r="2.8" fill="url(#sp)"/><circle cx="426.5" cy="70.8" r="2.8" fill="url(#sp)"/><circle cx="421.1" cy="97.5" r="3.05" fill="url(#sc)"/><circle cx="421.1" cy="89.5" r="3.05" fill="url(#sc)"/><circle cx="421.1" cy="81.5" r="3.05" fill="url(#sc)"/><circle cx="421.1" cy="73.5" r="3.05" fill="url(#sc)"/><circle cx="415.7" cy="100.2" r="2.8" fill="url(#sp)"/><circle cx="415.7" cy="92.2" r="2.8" fill="url(#sp)"/><circle cx="415.7" cy="84.2" r="2.8" fill="url(#sp)"/><circle cx="415.7" cy="76.2" r="2.8" fill="url(#sp)"/><circle cx="410.3" cy="103" r="3.05" fill="url(#sc)"/><circle cx="410.3" cy="95" r="3.05" fill="url(#sc)"/><circle cx="410.3" cy="87" r="3.05" fill="url(#sc)"/><circle cx="410.3" cy="79" r="3.05" fill="url(#sc)"/><circle cx="404.9" cy="105.8" r="2.8" fill="url(#sp)"/><circle cx="404.9" cy="97.8" r="2.8" fill="url(#sp)"/><circle cx="404.9" cy="89.8" r="2.8" fill="url(#sp)"/><circle cx="404.9" cy="81.8" r="2.8" fill="url(#sp)"/><circle cx="399.5" cy="108.5" r="3.05" fill="url(#sc)"/><circle cx="399.5" cy="100.5" r="3.05" fill="url(#sc)"/><circle cx="399.5" cy="92.5" r="3.05" fill="url(#sc)"/><circle cx="399.5" cy="84.5" r="3.05" fill="url(#sc)"/>
<path d="M413.3 95h14.5M434.9 84h14.5M413.3 79h14.5M434.9 68h14.5" stroke="#d0a57c" stroke-width="0.9" fill="none"/>
<path d="M420 108.5V84.5M430.8 103V79M441.6 97.5V73.5M452.4 92V68M463.2 86.5V62.5M420 112L468.6 87.2M420 104L468.6 79.2M420 96L468.6 71.2M420 88L468.6 63.2" stroke="#c79b72" stroke-width="0.8" fill="none" opacity="0.65"/>
<circle cx="468.6" cy="83.8" r="2.8" fill="url(#sp)"/><circle cx="468.6" cy="75.8" r="2.8" fill="url(#sp)"/><circle cx="468.6" cy="67.8" r="2.8" fill="url(#sp)"/><circle cx="468.6" cy="59.8" r="2.8" fill="url(#sp)"/><circle cx="463.2" cy="86.5" r="3.05" fill="url(#sc)"/><circle cx="463.2" cy="78.5" r="3.05" fill="url(#sc)"/><circle cx="463.2" cy="70.5" r="3.05" fill="url(#sc)"/><circle cx="463.2" cy="62.5" r="3.05" fill="url(#sc)"/><circle cx="457.8" cy="89.2" r="2.8" fill="url(#sp)"/><circle cx="457.8" cy="81.2" r="2.8" fill="url(#sp)"/><circle cx="457.8" cy="73.2" r="2.8" fill="url(#sp)"/><circle cx="457.8" cy="65.2" r="2.8" fill="url(#sp)"/><circle cx="452.4" cy="92" r="3.05" fill="url(#sc)"/><circle cx="452.4" cy="84" r="3.05" fill="url(#sc)"/><circle cx="452.4" cy="76" r="3.05" fill="url(#sc)"/><circle cx="452.4" cy="68" r="3.05" fill="url(#sc)"/><circle cx="447" cy="94.8" r="2.8" fill="url(#sp)"/><circle cx="447" cy="86.8" r="2.8" fill="url(#sp)"/><circle cx="447" cy="78.8" r="2.8" fill="url(#sp)"/><circle cx="447" cy="70.8" r="2.8" fill="url(#sp)"/><circle cx="441.6" cy="97.5" r="3.05" fill="url(#sc)"/><circle cx="441.6" cy="89.5" r="3.05" fill="url(#sc)"/><circle cx="441.6" cy="81.5" r="3.05" fill="url(#sc)"/><circle cx="441.6" cy="73.5" r="3.05" fill="url(#sc)"/><circle cx="436.2" cy="100.2" r="2.8" fill="url(#sp)"/><circle cx="436.2" cy="92.2" r="2.8" fill="url(#sp)"/><circle cx="436.2" cy="84.2" r="2.8" fill="url(#sp)"/><circle cx="436.2" cy="76.2" r="2.8" fill="url(#sp)"/><circle cx="430.8" cy="103" r="3.05" fill="url(#sc)"/><circle cx="430.8" cy="95" r="3.05" fill="url(#sc)"/><circle cx="430.8" cy="87" r="3.05" fill="url(#sc)"/><circle cx="430.8" cy="79" r="3.05" fill="url(#sc)"/><circle cx="425.4" cy="105.8" r="2.8" fill="url(#sp)"/><circle cx="425.4" cy="97.8" r="2.8" fill="url(#sp)"/><circle cx="425.4" cy="89.8" r="2.8" fill="url(#sp)"/><circle cx="425.4" cy="81.8" r="2.8" fill="url(#sp)"/><circle cx="420" cy="108.5" r="3.05" fill="url(#sc)"/><circle cx="420" cy="100.5" r="3.05" fill="url(#sc)"/><circle cx="420" cy="92.5" r="3.05" fill="url(#sc)"/><circle cx="420" cy="84.5" r="3.05" fill="url(#sc)"/>
<path d="M365 111Q365 104.5 372.5 104.5Q380 104.5 380 111Q380.5 124 377.5 134.5Q376 136.5 372.5 135.5Q369 136.5 367.5 134.5Q364.5 124 365 111Z" fill="#dda36c" stroke="#b9814a" stroke-width="0.7"/>
<path d="M372.5 106V135M369 108Q368 122 370 134M376 108Q377 122 375 134" stroke="#c48a52" stroke-width="0.6" fill="none"/>
<path d="M343 113h6v9q-3 3 -6 0z" fill="#d39a63"/>
<path d="M435.5 106.5h8.5v12h-1.8v-7h-1.6v8h-1.8v-8h-1.6v6.5h-1.7z" fill="#dda36c" stroke="#b9814a" stroke-width="0.4"/>
<path d="M428 97q5 -5 9 -3" stroke="#e0b080" stroke-width="2" fill="none" stroke-linecap="round"/>
<path d="M361 80.2V67" stroke="#f5b50f" stroke-width="2.8" stroke-linecap="round"/><ellipse cx="361" cy="80.2" rx="3.9" ry="4.6" fill="#f7b611"/>
<path d="M380.4 70V58" stroke="#f5b50f" stroke-width="2.8" stroke-linecap="round"/><ellipse cx="380.4" cy="70" rx="3.9" ry="4.6" fill="#f7b611"/><path transform="translate(379.3 55.2) scale(0.45)" d="M0 4.2Q-5.6 3.4 -5.6 -1.2Q-5.6 -4 -3.6 -4Q-1.2 -4 0 -1.2Q1.2 -4 3.6 -4Q5.6 -4 5.6 -1.2Q5.6 3.4 0 4.2Z" fill="#25258e"/>
<path d="M395.8 80.5V69" stroke="#f5b50f" stroke-width="2.8" stroke-linecap="round"/><ellipse cx="395.8" cy="80.5" rx="3.9" ry="4.6" fill="#f7b611"/><path transform="translate(396 64) scale(1.0)" d="M0 4.2Q-5.6 3.4 -5.6 -1.2Q-5.6 -4 -3.6 -4Q-1.2 -4 0 -1.2Q1.2 -4 3.6 -4Q5.6 -4 5.6 -1.2Q5.6 3.4 0 4.2Z" fill="#25258e"/>
<path d="M409.6 69.3V59" stroke="#f5b50f" stroke-width="2.8" stroke-linecap="round"/><ellipse cx="409.6" cy="69.3" rx="3.9" ry="4.6" fill="#f7b611"/><path transform="translate(410.5 54.5) scale(1.0)" d="M0 4.2Q-5.6 3.4 -5.6 -1.2Q-5.6 -4 -3.6 -4Q-1.2 -4 0 -1.2Q1.2 -4 3.6 -4Q5.6 -4 5.6 -1.2Q5.6 3.4 0 4.2Z" fill="#25258e"/>
<path d="M423 80.5V69" stroke="#f5b50f" stroke-width="2.8" stroke-linecap="round"/><ellipse cx="423" cy="80.5" rx="3.9" ry="4.6" fill="#f7b611"/><path transform="translate(422 64.5) scale(1.0)" d="M0 4.2Q-5.6 3.4 -5.6 -1.2Q-5.6 -4 -3.6 -4Q-1.2 -4 0 -1.2Q1.2 -4 3.6 -4Q5.6 -4 5.6 -1.2Q5.6 3.4 0 4.2Z" fill="#25258e"/>
<path d="M443.7 69V58" stroke="#f5b50f" stroke-width="2.8" stroke-linecap="round"/><ellipse cx="443.7" cy="69" rx="3.9" ry="4.6" fill="#f7b611"/><path transform="translate(440 54) scale(0.4)" d="M0 4.2Q-5.6 3.4 -5.6 -1.2Q-5.6 -4 -3.6 -4Q-1.2 -4 0 -1.2Q1.2 -4 3.6 -4Q5.6 -4 5.6 -1.2Q5.6 3.4 0 4.2Z" fill="#25258e"/>
<path transform="translate(336 61) rotate(6)" d="M0 0Q-1 -8.5 -0.3 -17M0 -0.4Q-5.4 -7.4 -7.9 -1.9l-0.3 1.5M0 0.9Q3.2 -3.4 5.9 3.2l0.3 1.5M-0.1 -1.8Q-6.7 -11 -11.8 -7l-0.3 1.5M-0.1 -1Q7.5 -8.9 9.1 -5.2M-0.2 -4Q-4.9 -11.9 -8.1 -0.4l-0.3 1.5M-0.2 -1.9Q6.5 -8.3 9.4 -4.4M-0.3 -6.3Q-5.9 -13.9 -10.2 -9.3l-0.3 1.5M-0.3 -4.6Q6.8 -11.9 7.8 -1.4M-0.3 -7.2Q-5.8 -12.9 -7.9 -9.4l-0.3 1.5M-0.3 -5.5Q3.1 -9.9 6.1 -7.9M-0.3 -9.6Q-6.7 -16 -8.5 -10.8M-0.3 -7.9Q3.9 -15.2 7.7 -10.5l0.3 1.5M-0.4 -10.7Q-3.2 -15 -6.3 -11.7l-0.3 1.5M-0.4 -10.3Q4.3 -15.8 5 -7.8M-0.4 -12.3Q-3.5 -17.7 -6 -15M-0.4 -11.5Q3.3 -16.8 5.8 -12.5l0.3 1.5M-0.3 -15.6Q-4.5 -21.1 -6.7 -18.6M-0.3 -13.8Q2.4 -17.4 4.8 -14.6l0.3 1.5M-0.3 -16.7Q-2.5 -20.4 -4.3 -17.8l-0.3 1.5M-0.3 -15.7Q2.9 -19.6 4 -14.7l0.3 1.5M-0.3 -17l0.5 -2l2.9 -1.3l0.9 -1.4m-0.9 1.4l1.4 1M0.2 -19l-2.3 -0.4M0.2 -19l0.7 -2l-2.8 -1.3l-0.8 -1.4m0.8 1.4l-1.4 1M0.9 -21l2.2 -0.4M0.9 -21l-1.2 -2l2.5 -1.1l0.7 -1.2m-0.7 1.2l1.2 0.9M-0.3 -23l-2 -0.4M-0.3 -23l-1 -2l-2.8 -1.2l-0.8 -1.4m0.8 1.4l-1.4 1M-1.4 -25l2.2 -0.4M-1.4 -25" fill="none" stroke="#18186e" stroke-width="0.95" stroke-linecap="round" stroke-linejoin="round"/>
<path transform="translate(362.5 68.5) rotate(7)" d="M0 0Q1.4 -9 0.4 -18M0 0.4Q-3.6 -5.5 -5.7 2.5l-0.3 1.5M0 0.8Q8.4 -9 10.8 -1.7l0.3 1.5M0.2 -2.1Q-6.5 -12 -9.4 2M0.2 -0.8Q10.2 -10.4 13.1 -5.7M0.3 -4Q-4.9 -10.3 -8.7 -6.2M0.3 -2.1Q6.2 -10.5 8.7 -4.9l0.3 1.5M0.4 -6Q-4.2 -12.6 -6.7 -8.1M0.4 -3.9Q6.8 -12.1 8.3 -2.1M0.4 -8.7Q-3.7 -14.1 -7 -6.7l-0.3 1.5M0.4 -7.4Q4.8 -14.6 8.4 -9.3l0.3 1.5M0.5 -9.4Q-3.7 -14.9 -6.5 -10.5M0.5 -8.2Q6.3 -17.4 10.2 -10.6M0.5 -11.2Q-3.4 -15.8 -5.4 -12.8M0.5 -10.9Q4.4 -16.4 7.4 -13.5l0.3 1.5M0.5 -14.3Q-3.1 -19.4 -5.7 -12.7M0.5 -11.9Q4.5 -17.8 8 -8.4M0.5 -15.3Q-2.3 -19.1 -4.7 -17.3l-0.3 1.5M0.5 -14.9Q4.9 -20.9 7.8 -18.1l0.3 1.5M0.4 -18.4Q-3.4 -23 -4.5 -16.9l-0.3 1.5M0.4 -16.8Q3.3 -21.5 6.2 -17.9M0.4 -18l-0.8 -2.1l3 -1.3l0.9 -1.5m-0.9 1.5l1.5 1M-0.4 -20.1l-2.4 -0.4M-0.4 -20.1l0.9 -2.1l-2.7 -1.2l-0.8 -1.4m0.8 1.4l-1.4 0.9M0.6 -22.3l2.2 -0.4M0.6 -22.3l-0.3 -2.1l3 -1.4l0.9 -1.5m-0.9 1.5l1.5 1.1M0.2 -24.4l-2.4 -0.5M0.2 -24.4l0 -2.1l-2.3 -1l-0.7 -1.2m0.7 1.2l-1.2 0.8M0.3 -26.5l1.9 -0.3M0.3 -26.5" fill="none" stroke="#18186e" stroke-width="0.95" stroke-linecap="round" stroke-linejoin="round"/>
<path transform="translate(381 55) rotate(47)" d="M0 0Q1.3 -12.2 0.4 -24.5M0 -1.2Q-4.1 -6.8 -8 1.1M0 0.8Q3 -3.1 4.4 2.5M0.1 -3.3Q-5.2 -11.3 -8 -5.2l-0.3 1.5M0.1 -1.4Q3.7 -7.1 7.1 -4M0.2 -4.8Q-4.6 -12.6 -8.1 -3.8l-0.3 1.5M0.2 -4Q4.1 -8 5 -2.4l0.3 1.5M0.3 -7.2Q-3.3 -13.7 -6.9 -9.9M0.3 -5.9Q5.3 -10.5 6.7 -7.6M0.3 -9.2Q-4.4 -14.9 -5.2 -10.5M0.3 -6.9Q3.7 -10.8 6.1 -4.2l0.3 1.5M0.4 -11.7Q-3.1 -17.3 -6.7 -14.3l-0.3 1.5M0.4 -9.3Q3.7 -13.3 5.4 -7M0.4 -12.7Q-4.9 -19 -6.8 -10.2l-0.3 1.5M0.4 -12.1Q3.8 -15.1 5.1 -13.3M0.4 -15.3Q-2.4 -20.2 -5.5 -12.7M0.4 -13.9Q2.5 -17.2 4.5 -12.4M0.5 -17Q-2.6 -20.9 -4.2 -19l-0.3 1.5M0.5 -16.2Q3.4 -19.7 5.2 -17.5M0.4 -19.1Q-2.7 -23 -4.2 -20l-0.3 1.5M0.4 -18.6Q2.7 -21.6 4 -19.9M0.4 -21.8Q-2.2 -25.3 -4.2 -21.3M0.4 -21.1Q2.7 -24.7 4.1 -20l0.3 1.5M0.4 -24.4Q-3.3 -28.2 -5 -26.7l-0.3 1.5M0.4 -22.1Q2.5 -24.3 3.2 -23l0.3 1.5M0.4 -24.5l1 -2.9l3.8 -1.7l1.1 -1.9m-1.1 1.9l1.9 1.3M1.4 -27.4l-3.1 -0.6M1.4 -27.4l-0.8 -2.9l-4.3 -1.9l-1.3 -2.1m1.3 2.1l-2.1 1.5M0.6 -30.2l3.4 -0.6M0.6 -30.2l1 -2.9l3.1 -1.4l0.9 -1.6m-0.9 1.6l1.6 1.1M1.6 -33.1l-2.5 -0.5M1.6 -33.1l-1.2 -2.9l-3.8 -1.7l-1.1 -1.9m1.1 1.9l-1.9 1.3M0.4 -36l3 -0.6M0.4 -36" fill="none" stroke="#18186e" stroke-width="0.95" stroke-linecap="round" stroke-linejoin="round"/>
<path transform="translate(449.5 56.5) rotate(-19)" d="M0 0Q0.6 -9.9 0.2 -19.7M0 0.4Q-6.4 -5.8 -8.3 -3.5M0 1.4Q4.6 -5.9 8.6 0.5M0.1 -2.6Q-9.2 -14.8 -12.2 -8.3l-0.3 1.5M0.1 -1.4Q7.1 -8.2 9 2.5M0.1 -5.2Q-7.4 -14.3 -9.4 -6.9l-0.3 1.5M0.1 -2.5Q5.3 -10.6 9.2 -6.7M0.2 -7.3Q-7.8 -16.2 -11.9 -9.7M0.2 -5.1Q4.9 -11.4 8 -2M0.2 -9.3Q-4.8 -16.2 -8.7 -5.5l-0.3 1.5M0.2 -7.7Q6.4 -14.8 7.9 -11.4M0.2 -10.8Q-5.1 -17.7 -8.8 -9.4l-0.3 1.5M0.2 -9Q5.8 -16.7 8.8 -7.6M0.2 -12.4Q-4.9 -20.4 -8.2 -9l-0.3 1.5M0.2 -11.7Q3.9 -17.2 5.4 -12.6l0.3 1.5M0.2 -15.6Q-5.7 -22.1 -6.7 -19.1M0.2 -13.1Q3 -17.5 5.7 -12.4l0.3 1.5M0.2 -17.2Q-4.7 -24.2 -7.8 -14.6M0.2 -15.3Q3.8 -20 7.3 -14.4M0.2 -18.7Q-3.2 -24.2 -5.4 -21M0.2 -18.3Q5 -23.5 6 -17.5M0.2 -19.7l-0.4 -2.3l3.2 -1.4l1 -1.6m-1 1.6l1.6 1.1M-0.2 -22l-2.6 -0.5M-0.2 -22l0.5 -2.3l-2.5 -1.1l-0.8 -1.3m0.8 1.3l-1.3 0.9M0.3 -24.4l2 -0.4M0.3 -24.4l-1.1 -2.3l2.5 -1.1l0.8 -1.3m-0.8 1.3l1.3 0.9M-0.8 -26.7l-2 -0.4M-0.8 -26.7l0.8 -2.3l-3.2 -1.4l-1 -1.6m1 1.6l-1.6 1.1M-0.1 -29l2.5 -0.5M-0.1 -29" fill="none" stroke="#18186e" stroke-width="0.95" stroke-linecap="round" stroke-linejoin="round"/>
<path transform="translate(476 42) rotate(14)" d="M0 0Q-0.4 -10.2 -0.1 -20.4M0 -0.9Q-5 -5.6 -6.7 -3.8l-0.3 1.5M0 1.1Q2.8 -2.9 4 0.4M0 -3.1Q-6 -9.7 -7.3 -6.4l-0.3 1.5M0 -1.3Q2.7 -5.9 5 0M-0.1 -4.2Q-3.1 -8.6 -5.1 -1.9M-0.1 -3.4Q3.5 -7 4.7 -5.6l0.3 1.5M-0.1 -6.4Q-3.3 -11.5 -5.9 -8.2l-0.3 1.5M-0.1 -6.1Q2.7 -8.9 3.5 -6.7l0.3 1.5M-0.1 -9.3Q-4.4 -14.6 -6.2 -10.9l-0.3 1.5M-0.1 -7.8Q3.3 -10.7 4.3 -6.9M-0.1 -10.8Q-2.9 -14.1 -5.3 -12.1M-0.1 -10.5Q2.3 -13.1 3.7 -12.2M-0.1 -12.8Q-3.6 -16.8 -4.6 -11.7l-0.3 1.5M-0.1 -12.4Q1.8 -15.4 3.2 -13.2M-0.1 -16.2Q-2.8 -20.9 -4.8 -18l-0.3 1.5M-0.1 -13.9Q2.6 -16.7 3.4 -15.3l0.3 1.5M-0.1 -18.2Q-2.7 -22.4 -4.6 -20.4M-0.1 -16.5Q1.8 -18.7 2.6 -17.5l0.3 1.5M-0.1 -19.5Q-2.3 -22.5 -4.2 -19.2M-0.1 -19.2Q2.1 -21.4 2.9 -19.8M-0.1 -20.4l1.1 -2.4l3.5 -1.6l1 -1.7m-1 1.7l1.7 1.2M1 -22.8l-2.8 -0.5M1 -22.8l-1.1 -2.4l-3.4 -1.5l-1 -1.7m1 1.7l-1.7 1.2M-0.1 -25.2l2.7 -0.5M-0.1 -25.2l1.2 -2.4l2.5 -1.1l0.8 -1.3m-0.8 1.3l1.3 0.9M1.1 -27.6l-2 -0.4M1.1 -27.6l0.9 -2.4l-3.4 -1.5l-1 -1.7m1 1.7l-1.7 1.2M2 -30l2.7 -0.5M2 -30" fill="none" stroke="#18186e" stroke-width="0.8" stroke-linecap="round" stroke-linejoin="round"/>
</g>
<g id="midfig">
<path d="M307 238L332 231L365 234L400 240L440 244L479 252V262Q440 268 400 264Q350 266 307 254Z" fill="url(#cream)"/>
<path d="M318 234.8C319.7 234.4 324.7 232.7 328 231.9C331.3 231.2 334.7 230.7 338 230.3C341.3 229.9 344.7 229.2 348 229.5C351.3 229.8 354.7 231.1 358 231.8C361.3 232.6 364.7 233.4 368 234.2C371.3 235 374.7 235.9 378 236.6C381.3 237.2 384.7 237.7 388 238.2C391.3 238.6 394.7 239 398 239.3C401.3 239.6 404.7 239.8 408 240.1C411.3 240.4 414.7 240.6 418 240.8C421.3 241.1 424.7 241.5 428 241.8C431.3 242.2 434.7 242.4 438 242.8C441.3 243.3 444.7 243.9 448 244.5C451.3 245 454.7 245.5 458 246.2C461.3 246.8 464.7 247.6 468 248.3C471.3 249 476.2 250.2 478 250.6C479.8 251 478.8 250.8 479 250.8L479 254.8C478.8 258 479.8 258.1 478 257.9C476.2 257.7 471.3 257.1 468 256.7C464.7 256.2 461.3 255.7 458 255.1C454.7 254.5 451.3 254 448 253.3C444.7 252.7 441.3 251.8 438 251C434.7 250.3 431.3 249.6 428 248.9C424.7 248.2 421.3 247.4 418 246.8C414.7 246.2 411.3 245.7 408 245.3C404.7 244.9 401.3 244.6 398 244.3C394.7 244 391.3 243.9 388 243.7C384.7 243.5 381.3 243.4 378 243.1C374.7 242.8 371.3 242.3 368 241.9C364.7 241.4 361.3 241 358 240.4C354.7 239.9 351.3 238.7 348 238.5C344.7 238.3 341.3 238.8 338 239C334.7 239.2 331.3 239.4 328 239.8C324.7 240.2 319.7 241.3 318 241.6Z" fill="#f4e98e"/>
<path d="M406.9 245.2q9.8 5.4 19.5 8.8M450.7 245.1q7.8 4.1 15.6 7M447.5 245.2q7.8 -0.9 15.6 -2.2M399.8 239.6q6.3 1 12.6 -1.4M427.8 242.9q9.8 -1.8 19.6 -4.5M334.5 230.6q10.2 -2.9 20.5 -3.5M459.4 252.5q6.7 3.3 13.5 6.3M415 242.1q10.6 4.4 21.3 5M446.5 246.3q7.2 -2.9 14.3 -3M325.5 234.7q8.6 -2.3 17.2 -6M365.3 235.7q9.9 -0.2 19.8 1.2M386.3 242.9q5.3 0.6 10.7 5.1M425.5 247.5q5.1 1.1 10.2 3.3M400.5 239.6q5.3 0.8 10.6 -2.1M344.7 235.1q10.6 4.1 21.2 9.5M367.8 237.8q9.7 -1.5 19.3 -5M432.4 248.3q5.2 0.7 10.4 4.7M365.7 237.9q10.5 1.1 21 -1.3M395.6 241.2q6.9 -3.1 13.8 -2.7M337.7 235.2q11 -4.1 22 -4.7M460.1 250.2q7.4 -0.7 14.9 -2.2M436.6 245.9q7.5 -0.6 15.1 -4.6M320.8 237.4q10 -1.5 20.1 -4.8M454.7 250q9.7 -2.8 19.5 -5M337.8 236.2q6.8 2.2 13.5 0.5M440.4 250q7.7 1.4 15.4 1" stroke="#d8c043" stroke-width="0.7" fill="none" opacity="0.85"/>
<path d="M306.5 217C308.8 216.3 315.8 214.2 320 213C324.2 211.8 327.3 210.7 332 209.8C336.7 208.9 342.8 208.1 348 207.6C353.2 207.1 357.3 206.9 363 206.6C368.7 206.3 375.8 205.9 382 205.6C388.2 205.3 393.7 204.8 400 205C406.3 205.2 413.4 205.7 420 206.5C426.6 207.3 432.8 208.3 439.5 209.8C446.2 211.3 453.4 213.3 460 215.5C466.6 217.7 475.8 221.6 479 222.8L479 232.8C475.8 232 466.6 229.4 460 228C453.4 226.6 446.2 225.4 439.5 224.5C432.8 223.6 426.6 223.1 420 222.5C413.4 221.9 406.3 221.5 400 221C393.7 220.5 388.2 220.3 382 219.5C375.8 218.7 368.7 217 363 216C357.3 215 353.2 214.2 348 213.6C342.8 213 336.7 212.4 332 212.6C327.3 212.8 324.2 213.7 320 214.6C315.8 215.5 308.8 217.4 306.5 218Z" fill="url(#hatch)"/>
<path d="M306.5 218C308.8 217.4 315.8 215.5 320 214.6C324.2 213.7 327.3 212.8 332 212.6C336.7 212.4 342.8 213 348 213.6C353.2 214.2 357.3 215 363 216C368.7 217 375.8 218.7 382 219.5C388.2 220.3 393.7 220.5 400 221C406.3 221.5 413.4 221.9 420 222.5C426.6 223.1 432.8 223.6 439.5 224.5C446.2 225.4 453.4 226.6 460 228C466.6 229.4 475.8 232 479 232.8L479 252.8C475.8 252.1 466.6 249.8 460 248.5C453.4 247.2 446.2 245.9 439.5 245C432.8 244.1 426.6 243.6 420 243C413.4 242.4 406.3 242.1 400 241.5C393.7 240.9 388.2 240.6 382 239.5C375.8 238.4 368.7 236.3 363 235C357.3 233.7 353.2 231.9 348 231.5C342.8 231.1 336.7 232 332 232.8C327.3 233.6 324.2 234.9 320 236.2C315.8 237.5 308.8 239.8 306.5 240.5Z" fill="#a9aaa3"/>
<path d="M307.5 219.2V238.7M309.4 218.8V238.1M311.3 218.3V237.5M313.2 217.8V236.9M315.1 217.3V236.3M317 216.9V235.7M318.9 216.4V235.1M320.8 216V234.5M322.7 215.7V233.9M324.6 215.3V233.4M326.5 215V232.9M328.4 214.7V232.3M330.3 214.4V231.8M332.2 214.1V231.3M334.1 214.2V231.1M336 214.3V231M337.9 214.5V230.8M339.8 214.6V230.7M341.7 214.7V230.5M343.6 214.8V230.4M345.5 214.9V230.2M347.4 215.1V230M349.3 215.3V230.3M351.2 215.6V230.7M353.1 215.9V231.2M355 216.2V231.6M356.9 216.5V232.1M358.8 216.8V232.5M360.7 217.1V233M362.6 217.4V233.4M364.5 217.8V233.9M366.4 218.1V234.3M368.3 218.5V234.8M370.2 218.8V235.2M372.1 219.2V235.7M374 219.5V236.1M375.9 219.9V236.6M377.8 220.2V237M379.7 220.6V237.5M381.6 220.9V237.9M383.5 221.1V238.2M385.4 221.3V238.4M387.3 221.4V238.6M389.2 221.6V238.8M391.1 221.8V239M393 221.9V239.2M394.9 222.1V239.4M396.8 222.2V239.6M398.7 222.4V239.9M400.6 222.5V240M402.5 222.7V240.2M404.4 222.8V240.3M406.3 223V240.5M408.2 223.1V240.6M410.1 223.3V240.8M412 223.4V240.9M413.9 223.5V241M415.8 223.7V241.2M417.7 223.8V241.3M419.6 224V241.5M421.5 224.2V241.7M423.4 224.3V241.8M425.3 224.5V242M427.2 224.7V242.2M429.1 224.9V242.4M431 225.1V242.6M432.9 225.3V242.8M434.8 225.5V243M436.7 225.7V243.2M438.6 225.9V243.4M440.5 226.2V243.7M442.4 226.5V244M444.3 226.8V244.3M446.2 227.1V244.6M448.1 227.5V245M450 227.8V245.3M451.9 228.1V245.6M453.8 228.4V245.9M455.7 228.8V246.3M457.6 229.1V246.6M459.5 229.4V246.9M461.4 229.9V247.3M463.3 230.3V247.7M465.2 230.8V248.2M467.1 231.3V248.6M469 231.8V249M470.9 232.3V249.5M472.8 232.7V249.9M474.7 233.2V250.3M476.6 233.7V250.8M478.5 234.2V251.2" stroke="#f4f4ee" stroke-width="0.9" fill="none"/>
<path d="M306.5 218.3C308.8 217.7 315.8 215.8 320 214.9C324.2 214 327.3 213.1 332 212.9C336.7 212.7 342.8 213.3 348 213.9C353.2 214.5 357.3 215.3 363 216.3C368.7 217.3 375.8 219 382 219.8C388.2 220.6 393.7 220.8 400 221.3C406.3 221.8 413.4 222.2 420 222.8C426.6 223.4 432.8 223.9 439.5 224.8C446.2 225.7 453.4 226.9 460 228.3C466.6 229.7 475.8 232.3 479 233.1" stroke="#55564f" stroke-width="1.8" fill="none" stroke-dasharray="1.2 0.7"/>
<path d="M306.5 239.9C308.8 239.2 315.8 236.9 320 235.6C324.2 234.3 327.3 233 332 232.2C336.7 231.4 342.8 230.5 348 230.9C353.2 231.3 357.3 233.1 363 234.4C368.7 235.7 375.8 237.8 382 238.9C388.2 240 393.7 240.3 400 240.9C406.3 241.5 413.4 241.8 420 242.4C426.6 243 432.8 243.5 439.5 244.4C446.2 245.3 453.4 246.6 460 247.9C466.6 249.2 475.8 251.5 479 252.2" stroke="#55564f" stroke-width="1.8" fill="none" stroke-dasharray="1.2 0.7"/>
<path d="M306.5 229.2C308.8 228.6 315.8 226.5 320 225.4C324.2 224.3 327.3 223.2 332 222.7C336.7 222.2 342.8 222.1 348 222.6C353.2 223 357.3 224.3 363 225.5C368.7 226.7 375.8 228.5 382 229.5C388.2 230.5 393.7 230.7 400 231.2C406.3 231.8 413.4 232.2 420 232.8C426.6 233.3 432.8 233.8 439.5 234.8C446.2 235.7 453.4 236.9 460 238.2C466.6 239.6 475.8 242 479 242.8" stroke="#6b6c64" stroke-width="1.6" fill="none" stroke-dasharray="1.2 0.7"/>
<path d="M306.5 217C308.8 216.3 315.8 214.2 320 213C324.2 211.8 327.3 210.7 332 209.8C336.7 208.9 342.8 208.1 348 207.6C353.2 207.1 357.3 206.9 363 206.6C368.7 206.3 375.8 205.9 382 205.6C388.2 205.3 393.7 204.8 400 205C406.3 205.2 413.4 205.7 420 206.5C426.6 207.3 432.8 208.3 439.5 209.8C446.2 211.3 453.4 213.3 460 215.5C466.6 217.7 475.8 221.6 479 222.8" stroke="#6a6a60" stroke-width="0.7" fill="none"/>
<ellipse cx="326.5" cy="232.3" rx="4" ry="2.6" fill="#6a176b"/><ellipse cx="326" cy="231.6" rx="2.2" ry="1.4" fill="#a03aa0"/>
<ellipse cx="437.5" cy="247" rx="5" ry="2.4" fill="#8a2048"/>
<ellipse cx="361" cy="236.5" rx="4" ry="1.6" fill="#d8a020" opacity="0.8"/>
<ellipse transform="translate(323 222) rotate(20)" rx="1.5" ry="3.6" fill="#e8b53c"/>
<ellipse transform="translate(354 216) rotate(15)" rx="1.5" ry="3.6" fill="#e8b53c"/>
<ellipse transform="translate(376.5 224) rotate(-20)" rx="1.5" ry="3.6" fill="#e8b53c"/>
<ellipse transform="translate(403 226) rotate(10)" rx="1.5" ry="3.6" fill="#e8b53c"/>
<ellipse transform="translate(428 236) rotate(-15)" rx="1.5" ry="3.6" fill="#e8b53c"/>
<ellipse transform="translate(459 238) rotate(10)" rx="1.5" ry="3.6" fill="#e8b53c"/>
<path d="M353 209.8Q353 205.4 357 205.4Q361 205.4 361 209.8Q357 211.3 353 209.8Z" fill="url(#mag)"/>
<path d="M390 208.9Q390 203.9 395 203.9Q400 203.9 400 208.9Q395 210.7 390 208.9Z" fill="url(#mag)"/>
<path d="M412.5 218.5Q412.5 212.5 417.5 212.5Q422.5 212.5 422.5 218.5Q417.5 220.6 412.5 218.5Z" fill="url(#mag)"/>
<path d="M420.5 224Q420.5 218 426 218Q431.5 218 431.5 224Q426 226.1 420.5 224Z" fill="url(#mag)"/>
<path d="M439 213.8Q439 210.2 442 210.2Q445 210.2 445 213.8Q442 215.1 439 213.8Z" fill="url(#mag)"/>
<path d="M472 226.6Q472 222.6 475.5 222.6Q479 222.6 479 226.6Q475.5 228 472 226.6Z" fill="url(#mag)"/>
<ellipse transform="translate(342.5 218.5) rotate(-4)" rx="7.5" ry="11.5" fill="#6b1d6e"/><path transform="translate(340 218) rotate(-4)" d="M0 -11.5C8.2 -11.5 8.2 -2.3 6.8 5.8C6 11.5 2.2 12 0 11.5C-4.5 12 -7.5 10.3 -7.2 4.6C-8.2 -4.6 -7.5 -11.5 0 -11.5Z" fill="url(#pink)"/>
<ellipse transform="translate(392 226) rotate(-8)" rx="9.5" ry="13" fill="#6b1d6e"/><path transform="translate(388.5 227) rotate(-8)" d="M0 -13C10.5 -13 10.5 -2.6 8.6 6.5C7.6 13 2.9 13.5 0 13C-5.7 13.5 -9.5 11.7 -9.1 5.2C-10.5 -5.2 -9.5 -13 0 -13Z" fill="url(#pink)"/>
<ellipse transform="translate(417.8 231.5) rotate(-28)" rx="9.2" ry="7.2" fill="#6b1d6e"/><path transform="translate(414.8 233) rotate(-28)" d="M0 -7.2C10.2 -7.2 10.2 -1.5 8.3 3.6C7.4 7.2 2.8 7.5 0 7.2C-5.5 7.5 -9.2 6.5 -8.9 2.9C-10.2 -2.9 -9.2 -7.2 0 -7.2Z" fill="url(#pink)"/>
<ellipse transform="translate(446.7 234) rotate(-6)" rx="7.5" ry="10.5" fill="#6b1d6e"/><path transform="translate(443.5 234) rotate(-6)" d="M0 -10.5C8.2 -10.5 8.2 -2.1 6.8 5.2C6 10.5 2.2 10.9 0 10.5C-4.5 10.9 -7.5 9.5 -7.2 4.2C-8.2 -4.2 -7.5 -10.5 0 -10.5Z" fill="url(#pink)"/>
<ellipse transform="translate(466 237.5) rotate(-4)" rx="5.5" ry="10.5" fill="#6b1d6e"/><path transform="translate(471 238) rotate(-4)" d="M0 -10.5C6.1 -10.5 6.1 -2.1 5 5.2C4.4 10.5 1.6 10.9 0 10.5C-3.3 10.9 -5.5 9.5 -5.3 4.2C-6.1 -4.2 -5.5 -10.5 0 -10.5Z" fill="url(#pink)"/>
<path d="M399 223v14M452 224v14M459 226v16" stroke="#fff" stroke-width="0.9" stroke-dasharray="1 1.2" fill="none"/>
<path d="M360.6 205.5V198.5l2.6 -1.2M360.6 201l-2.2 -2M371.8 209.5V204.5M371.8 206l2 -1.3M427.6 218.5V206l5.6 -3.6M427.6 206.5l-3.6 -4.6M461.5 223.5V214" stroke="#1d4a32" stroke-width="1.9" fill="none" stroke-linecap="round" stroke-linejoin="round"/>
<path d="M351.8 166.4L358 165Q359.2 167 358 168.8C366.6 186 372 205 371.2 226C370.4 246 365 261 357.4 269.4L351.6 270.2Q350.6 267 352.6 265.2C360.4 256 365.4 242 366 226C366.6 206 361.4 188 354.2 171.6Q352 169.6 351.8 166.4Z" fill="#90a4a8"/>
<path d="M456.4 162.8L450 161.6Q448.8 163.8 450 165.6C442.6 178 436.8 196 436.6 214C436.4 236 442.4 254 451.6 266L458 266.4Q459 263 456.8 261.4C448.4 250 442 234 442 214C442.2 197 446.6 180 453.8 168Q456.2 166 456.4 162.8Z" fill="#90a4a8"/>
<path d="M353.6 167.4l3 -0.6M451.2 164l3 0.4" stroke="#dfe7e8" stroke-width="0.8"/>
<path d="M378.8 185.2L374 184L373.2 195.3L370.8 193.5L370.8 206.2L374.8 197.1L377.3 198.7Z" fill="#f21414"/>
<path d="M415.1 195L410.1 193.8L409.3 205.9L406.9 204.1L406.8 217.6L410.9 207.8L413.4 209.4Z" fill="#f21414"/>
<path transform="translate(374.5 182.5) rotate(40)" d="M0 0Q-1.5 -6.8 -0.4 -13.6M0 0Q-2.5 -2.3 -3.2 0.5M0 0.5Q3.7 -2.6 4.6 1.6l0.3 1.5M-0.2 -2.1Q-3.9 -5.5 -4.7 -1.1l-0.3 1.5M-0.2 -0.4Q2.7 -5.5 5.5 -2.3M-0.3 -3.2Q-2.7 -6.1 -3.7 -4.4l-0.3 1.5M-0.3 -2.6Q2.8 -7.1 4.4 -1.6M-0.4 -4.4Q-2.7 -8.1 -4.9 -5.9M-0.4 -4.4Q3 -7.7 4.1 -5.7l0.3 1.5M-0.5 -6.6Q-3.3 -9.6 -4.5 -5.6M-0.5 -6Q1.9 -9.3 3.5 -7.9M-0.5 -8.5Q-2.6 -11.5 -3.9 -9.8M-0.5 -7.7Q2 -10.6 2.5 -8.4l0.3 1.5M-0.5 -9.3Q-2.3 -11.5 -3.5 -8.6l-0.3 1.5M-0.5 -8.1Q1.1 -11 2.3 -9.3l0.3 1.5M-0.5 -11.8Q-1.9 -13.6 -2.8 -12.1M-0.5 -9.9Q1.8 -12.8 2.6 -9.6M-0.5 -13.2Q-1.9 -14.9 -2.7 -14.3l-0.3 1.5M-0.5 -12Q1.5 -14.5 2.3 -13.1M-0.4 -13.6l-1.1 -1.6l2.1 -0.9l0.6 -1m-0.6 1l1 0.7M-1.6 -15.2l-1.7 -0.3M-1.6 -15.2l0.9 -1.6l-1.8 -0.8l-0.5 -0.9m0.5 0.9l-0.9 0.6M-0.6 -16.8l1.4 -0.3M-0.6 -16.8l-0.7 -1.6l2.3 -1l0.7 -1.1m-0.7 1.1l1.1 0.8M-1.3 -18.4l-1.8 -0.3M-1.3 -18.4l-0.3 -1.6l-1.9 -0.9l-0.6 -1m0.6 1l-1 0.7M-1.7 -20l1.5 -0.3M-1.7 -20" fill="none" stroke="#4c4ca8" stroke-width="0.75" stroke-linecap="round" stroke-linejoin="round"/>
<path transform="translate(423 192.5) rotate(42)" d="M0 0Q-1.3 -6.8 -0.4 -13.6M0 0.4Q-2.2 -2.9 -3.4 -1.1M0 1.7Q2.6 -1.5 4.8 3.6M-0.2 -1.4Q-2.6 -6.2 -5.2 -0.9l-0.3 1.5M-0.2 -1.3Q2.2 -4.6 3.9 -0.4M-0.3 -3Q-2.8 -6.1 -3.9 -4l-0.3 1.5M-0.3 -2.5Q2 -6.2 4.1 -4M-0.4 -4.8Q-2.2 -7.6 -3.7 -3.6l-0.3 1.5M-0.4 -4.5Q2.7 -7.8 3.2 -5.4M-0.4 -6.6Q-2.8 -10.2 -4.3 -8.2l-0.3 1.5M-0.4 -5.4Q2 -8.8 4.2 -6.5l0.3 1.5M-0.4 -7.7Q-2 -10.3 -3.1 -8.2M-0.4 -7.7Q1.4 -11.1 3.1 -6.9M-0.5 -9.6Q-2 -12.1 -3 -10l-0.3 1.5M-0.5 -9.2Q2.3 -12.9 3.2 -10l0.3 1.5M-0.4 -12Q-1.8 -13.8 -2.8 -12.9M-0.4 -9.8Q0.9 -12.3 2 -10.9M-0.4 -12.7Q-2.6 -15 -3.2 -11.9l-0.3 1.5M-0.4 -11.1Q1.4 -13.2 2.2 -10.7l0.3 1.5M-0.4 -13.6l1.2 -1.6l2.1 -0.9l0.6 -1m-0.6 1l1 0.7M0.8 -15.2l-1.7 -0.3M0.8 -15.2l-0.3 -1.6l-1.6 -0.7l-0.5 -0.8m0.5 0.8l-0.8 0.6M0.5 -16.8l1.3 -0.2M0.5 -16.8l0 -1.6l2.2 -1l0.7 -1.1m-0.7 1.1l1.1 0.8M0.5 -18.4l-1.8 -0.3M0.5 -18.4l-0.8 -1.6l-1.7 -0.8l-0.5 -0.8m0.5 0.8l-0.8 0.6M-0.3 -20l1.3 -0.3M-0.3 -20" fill="none" stroke="#4c4ca8" stroke-width="0.75" stroke-linecap="round" stroke-linejoin="round"/>
<text x="370.6" y="265.2" class="ion">K<tspan dy="-2.6" font-size="4.6">+</tspan><tspan dy="2.6">,</tspan></text>
<text x="370.6" y="274.4" class="ion">PO<tspan dy="1.4" font-size="4.6">4</tspan><tspan dy="-4" font-size="4.6">3-</tspan><tspan dy="4.6">–</tspan></text>
<text x="439.2" y="275.2" class="ion">DNA, RNA</text>
</g>
<g id="botfig">
<circle cx="329.4" cy="369.6" r="1.05" fill="#6572cc"/><circle cx="330.3" cy="371.9" r="0.8" fill="#b4bbea"/><circle cx="332" cy="369.2" r="1.05" fill="#6572cc"/><circle cx="332.9" cy="371.5" r="0.8" fill="#b4bbea"/><circle cx="334.6" cy="368.7" r="1.05" fill="#6572cc"/><circle cx="335.5" cy="371" r="0.8" fill="#b4bbea"/><ellipse cx="337.2" cy="368.3" rx="1.3" ry="1.9" fill="#f3a868"/><circle cx="339.8" cy="367.9" r="1.05" fill="#6572cc"/><circle cx="340.7" cy="370.2" r="0.8" fill="#b4bbea"/><circle cx="342.4" cy="367.4" r="1.05" fill="#6572cc"/><circle cx="343.3" cy="369.7" r="0.8" fill="#b4bbea"/><circle cx="345" cy="367" r="1.05" fill="#6572cc"/><circle cx="345.9" cy="369.3" r="0.8" fill="#b4bbea"/><circle cx="347.6" cy="366.7" r="1.05" fill="#6572cc"/><circle cx="348.5" cy="369" r="0.8" fill="#b4bbea"/><circle cx="350.2" cy="366.3" r="1.05" fill="#6572cc"/><circle cx="351.1" cy="368.6" r="0.8" fill="#b4bbea"/><circle cx="352.8" cy="366" r="1.05" fill="#6572cc"/><circle cx="353.7" cy="368.3" r="0.8" fill="#b4bbea"/><ellipse cx="355.4" cy="365.6" rx="1.3" ry="1.9" fill="#f3a868"/><circle cx="358" cy="365.3" r="1.05" fill="#6572cc"/><circle cx="358.9" cy="367.6" r="0.8" fill="#b4bbea"/><circle cx="360.6" cy="365" r="1.05" fill="#6572cc"/><circle cx="361.5" cy="367.3" r="0.8" fill="#b4bbea"/><circle cx="363.2" cy="364.8" r="1.05" fill="#6572cc"/><circle cx="364.1" cy="367.1" r="0.8" fill="#b4bbea"/><circle cx="365.8" cy="364.7" r="1.05" fill="#6572cc"/><circle cx="366.7" cy="367" r="0.8" fill="#b4bbea"/><circle cx="368.4" cy="364.5" r="1.05" fill="#6572cc"/><circle cx="369.3" cy="366.8" r="0.8" fill="#b4bbea"/><circle cx="371" cy="364.3" r="1.05" fill="#6572cc"/><circle cx="371.9" cy="366.6" r="0.8" fill="#b4bbea"/><ellipse cx="373.6" cy="364.2" rx="1.3" ry="1.9" fill="#f3a868"/><circle cx="376.2" cy="364.3" r="1.05" fill="#6572cc"/><circle cx="377.1" cy="366.6" r="0.8" fill="#b4bbea"/><circle cx="378.8" cy="364.4" r="1.05" fill="#6572cc"/><circle cx="379.7" cy="366.7" r="0.8" fill="#b4bbea"/><circle cx="381.4" cy="364.5" r="1.05" fill="#6572cc"/><circle cx="382.3" cy="366.8" r="0.8" fill="#b4bbea"/><circle cx="384" cy="364.6" r="1.05" fill="#6572cc"/><circle cx="384.9" cy="366.9" r="0.8" fill="#b4bbea"/><circle cx="386.6" cy="364.7" r="1.05" fill="#6572cc"/><circle cx="387.5" cy="367" r="0.8" fill="#b4bbea"/><circle cx="389.2" cy="364.8" r="1.05" fill="#6572cc"/><circle cx="390.1" cy="367.1" r="0.8" fill="#b4bbea"/><ellipse cx="391.8" cy="365.1" rx="1.3" ry="1.9" fill="#f3a868"/><circle cx="394.4" cy="365.5" r="1.05" fill="#6572cc"/><circle cx="395.3" cy="367.8" r="0.8" fill="#b4bbea"/><circle cx="397" cy="365.9" r="1.05" fill="#6572cc"/><circle cx="397.9" cy="368.2" r="0.8" fill="#b4bbea"/><circle cx="399.6" cy="366.3" r="1.05" fill="#6572cc"/><circle cx="400.5" cy="368.6" r="0.8" fill="#b4bbea"/><circle cx="402.2" cy="366.8" r="1.05" fill="#6572cc"/><circle cx="403.1" cy="369.1" r="0.8" fill="#b4bbea"/><circle cx="404.8" cy="367.2" r="1.05" fill="#6572cc"/><circle cx="405.7" cy="369.5" r="0.8" fill="#b4bbea"/><circle cx="407.4" cy="367.9" r="1.05" fill="#6572cc"/><circle cx="408.3" cy="370.2" r="0.8" fill="#b4bbea"/><ellipse cx="410" cy="368.7" rx="1.3" ry="1.9" fill="#f3a868"/><circle cx="412.6" cy="369.4" r="1.05" fill="#6572cc"/><circle cx="413.5" cy="371.7" r="0.8" fill="#b4bbea"/><circle cx="415.2" cy="370.2" r="1.05" fill="#6572cc"/><circle cx="416.1" cy="372.5" r="0.8" fill="#b4bbea"/><circle cx="417.8" cy="370.9" r="1.05" fill="#6572cc"/><circle cx="418.7" cy="373.2" r="0.8" fill="#b4bbea"/><circle cx="420.4" cy="372.1" r="1.05" fill="#6572cc"/><circle cx="421.3" cy="374.4" r="0.8" fill="#b4bbea"/><circle cx="423" cy="373.4" r="1.05" fill="#6572cc"/><circle cx="423.9" cy="375.7" r="0.8" fill="#b4bbea"/><circle cx="425.6" cy="374.6" r="1.05" fill="#6572cc"/><circle cx="426.5" cy="376.9" r="0.8" fill="#b4bbea"/><ellipse cx="428.2" cy="375.9" rx="1.3" ry="1.9" fill="#f3a868"/><circle cx="430.8" cy="377.5" r="1.05" fill="#6572cc"/><circle cx="431.7" cy="379.8" r="0.8" fill="#b4bbea"/><circle cx="433.4" cy="379" r="1.05" fill="#6572cc"/><circle cx="434.3" cy="381.3" r="0.8" fill="#b4bbea"/><circle cx="436" cy="380.6" r="1.05" fill="#6572cc"/><circle cx="436.9" cy="382.9" r="0.8" fill="#b4bbea"/>
<circle cx="334" cy="378" r="1.05" fill="#6572cc"/><circle cx="334.9" cy="380.3" r="0.8" fill="#b4bbea"/><circle cx="336.6" cy="377.4" r="1.05" fill="#6572cc"/><circle cx="337.5" cy="379.7" r="0.8" fill="#b4bbea"/><circle cx="339.2" cy="376.9" r="1.05" fill="#6572cc"/><circle cx="340.1" cy="379.2" r="0.8" fill="#b4bbea"/><ellipse cx="341.8" cy="376.3" rx="1.3" ry="1.9" fill="#f3a868"/><circle cx="344.4" cy="375.8" r="1.05" fill="#6572cc"/><circle cx="345.3" cy="378.1" r="0.8" fill="#b4bbea"/><circle cx="347" cy="375.2" r="1.05" fill="#6572cc"/><circle cx="347.9" cy="377.5" r="0.8" fill="#b4bbea"/><circle cx="349.6" cy="374.7" r="1.05" fill="#6572cc"/><circle cx="350.5" cy="377" r="0.8" fill="#b4bbea"/><circle cx="352.2" cy="374.3" r="1.05" fill="#6572cc"/><circle cx="353.1" cy="376.6" r="0.8" fill="#b4bbea"/><circle cx="354.8" cy="373.9" r="1.05" fill="#6572cc"/><circle cx="355.7" cy="376.2" r="0.8" fill="#b4bbea"/><circle cx="357.4" cy="373.4" r="1.05" fill="#6572cc"/><circle cx="358.3" cy="375.7" r="0.8" fill="#b4bbea"/><ellipse cx="360" cy="373" rx="1.3" ry="1.9" fill="#f3a868"/><circle cx="362.6" cy="372.7" r="1.05" fill="#6572cc"/><circle cx="363.5" cy="375" r="0.8" fill="#b4bbea"/><circle cx="365.2" cy="372.4" r="1.05" fill="#6572cc"/><circle cx="366.1" cy="374.7" r="0.8" fill="#b4bbea"/><circle cx="367.8" cy="372.2" r="1.05" fill="#6572cc"/><circle cx="368.7" cy="374.5" r="0.8" fill="#b4bbea"/><circle cx="370.4" cy="371.9" r="1.05" fill="#6572cc"/><circle cx="371.3" cy="374.2" r="0.8" fill="#b4bbea"/><circle cx="373" cy="371.6" r="1.05" fill="#6572cc"/><circle cx="373.9" cy="373.9" r="0.8" fill="#b4bbea"/><circle cx="375.6" cy="371.7" r="1.05" fill="#6572cc"/><circle cx="376.5" cy="374" r="0.8" fill="#b4bbea"/><ellipse cx="378.2" cy="371.7" rx="1.3" ry="1.9" fill="#f3a868"/><circle cx="380.8" cy="371.8" r="1.05" fill="#6572cc"/><circle cx="381.7" cy="374.1" r="0.8" fill="#b4bbea"/><circle cx="383.4" cy="371.8" r="1.05" fill="#6572cc"/><circle cx="384.3" cy="374.1" r="0.8" fill="#b4bbea"/><circle cx="386" cy="371.9" r="1.05" fill="#6572cc"/><circle cx="386.9" cy="374.2" r="0.8" fill="#b4bbea"/><circle cx="388.6" cy="372" r="1.05" fill="#6572cc"/><circle cx="389.5" cy="374.3" r="0.8" fill="#b4bbea"/><circle cx="391.2" cy="372.2" r="1.05" fill="#6572cc"/><circle cx="392.1" cy="374.5" r="0.8" fill="#b4bbea"/><circle cx="393.8" cy="372.7" r="1.05" fill="#6572cc"/><circle cx="394.7" cy="375" r="0.8" fill="#b4bbea"/><ellipse cx="396.4" cy="373.1" rx="1.3" ry="1.9" fill="#f3a868"/><circle cx="399" cy="373.6" r="1.05" fill="#6572cc"/><circle cx="399.9" cy="375.9" r="0.8" fill="#b4bbea"/><circle cx="401.6" cy="374" r="1.05" fill="#6572cc"/><circle cx="402.5" cy="376.3" r="0.8" fill="#b4bbea"/><circle cx="404.2" cy="374.5" r="1.05" fill="#6572cc"/><circle cx="405.1" cy="376.8" r="0.8" fill="#b4bbea"/><circle cx="406.8" cy="375.1" r="1.05" fill="#6572cc"/><circle cx="407.7" cy="377.4" r="0.8" fill="#b4bbea"/><circle cx="409.4" cy="375.9" r="1.05" fill="#6572cc"/><circle cx="410.3" cy="378.2" r="0.8" fill="#b4bbea"/><circle cx="412" cy="376.6" r="1.05" fill="#6572cc"/><circle cx="412.9" cy="378.9" r="0.8" fill="#b4bbea"/><ellipse cx="414.6" cy="377.4" rx="1.3" ry="1.9" fill="#f3a868"/><circle cx="417.2" cy="378.2" r="1.05" fill="#6572cc"/><circle cx="418.1" cy="380.5" r="0.8" fill="#b4bbea"/><circle cx="419.8" cy="379.3" r="1.05" fill="#6572cc"/><circle cx="420.7" cy="381.6" r="0.8" fill="#b4bbea"/><circle cx="422.4" cy="380.5" r="1.05" fill="#6572cc"/><circle cx="423.3" cy="382.8" r="0.8" fill="#b4bbea"/><circle cx="425" cy="381.8" r="1.05" fill="#6572cc"/><circle cx="425.9" cy="384.1" r="0.8" fill="#b4bbea"/><circle cx="427.6" cy="383.1" r="1.05" fill="#6572cc"/><circle cx="428.5" cy="385.4" r="0.8" fill="#b4bbea"/><circle cx="430.2" cy="384.8" r="1.05" fill="#6572cc"/><circle cx="431.1" cy="387.1" r="0.8" fill="#b4bbea"/><ellipse cx="432.8" cy="386.5" rx="1.3" ry="1.9" fill="#f3a868"/>
<path d="M327 368.5q5 0 9 -3.2M339 364.5q6 1.6 12 -0.8M350 361.6q7 2.4 14 0M363 360.2q6 2.4 11 0.4M392 361.4q5 3 10 1.6M401 362.8q5 3.4 11 3.2M414.5 366.4q6 5 12 5.4M425 371.6q6 5.6 12 6M436 377.6q6 4 12.5 4.6" stroke="#94385a" stroke-width="2.2" fill="none" stroke-linecap="round"/>
<path d="M377.5 362q2.4 -2.4 5 0q2.6 -2.4 5.4 0q1.6 5 0 9.6q-2.6 2 -5.2 0q-2.6 2 -5.2 0q-1.6 -5 0 -9.6z" fill="#cfa658" stroke="#8a6a2a" stroke-width="0.5"/>
<path d="M382.5 362.5v9M380 364.5q-0.8 3 0 5M385.2 364.5q0.8 3 0 5" stroke="#5a4010" stroke-width="0.9" fill="none"/>
<path d="M384.3 330.7Q386 346.4 387.5 360.9M393.5 330.9Q391.9 345.1 390.9 361.2M470.6 362.7Q459.9 371.9 445 379.5M364.9 331.1Q362.2 344.5 362 361.4M434.8 339.2Q427.7 352.5 416.5 366.6M464.5 356.5Q451.8 366.8 445 379.5M457.1 350.8Q448.5 362.1 434.2 374.3M327.3 335.9Q336.2 349 341.7 364.1M329.5 335.3Q336.5 351 337.9 364.7M334.3 334Q334.7 347.4 339.8 364.4M439.5 341.2Q428.1 353.6 416 366.5M345.6 332.3Q349 347.7 357 361.9M334.1 334.1Q336.7 348.1 342.8 363.9M466.5 358.2Q454.6 370.4 445 379.5M348.7 332Q353 347.8 353.1 362.4M331.6 334.8Q339.7 347.7 351.4 362.7M435.8 339.6Q424.6 351.3 416 366.5M330 335.2Q334.8 349.9 342.8 363.9M373.6 330.8Q375.8 345.7 372.5 360.7M405.1 331.6Q402.2 346 403.2 363.2M456.8 350.6Q447.1 362.7 440.4 377.2M430.6 337.6Q425.1 355.3 423.3 369.4M452.7 348.1Q442.6 359.4 433.5 373.9M322 337.3Q331.4 351.3 343.9 363.7M355.8 331.5Q361.6 345.5 366.2 361.1M343.2 332.6Q346.5 346.3 355 362.2" stroke="#45ac50" stroke-width="0.9" fill="none" opacity="0.9"/>
<path d="M316 341.3L331 365.8M316 341.3L341 364.2M327.9 335.7L333.2 365.5M327.9 335.7L349.3 362.9M339.8 333L340 364.3M339.8 333L358.6 361.7M351.8 331.8L347.3 363.2M351.8 331.8L367.1 361M363.7 331.1L358.1 361.8M363.7 331.1L377.1 360.7M375.6 330.8L364.4 361.2M375.6 330.8L383.6 360.8M387.5 330.8L373.2 360.6M387.5 330.8L394.7 361.8M399.5 331.2L384.7 360.9M399.5 331.2L400 362.7M411.4 332.1L394.8 361.8M411.4 332.1L413 365.6M423.3 335.2L402.1 363M423.3 335.2L420.1 368M435.2 339.4L408.6 364.5M435.2 339.4L426.2 370.7M447.2 344.9L419 367.5M447.2 344.9L435.1 374.7M459.1 352.1L426.3 370.7M459.1 352.1L444.7 379.4M471 363.1L434.3 374.3M471 363.1L445 379.5" stroke="#12802a" stroke-width="2.2" fill="none" stroke-linecap="round"/>
<path d="M314 340C315 339.1 316.2 336.4 320 334.8C323.8 333.2 332 331.4 336.7 330.4C341.4 329.4 344 329.4 348 329C352 328.6 355.1 328.4 360.5 328.2C365.9 328 374.6 327.6 380.7 327.6C386.8 327.6 391.6 327.7 397 328C402.4 328.3 407.7 328.3 412.8 329.2C417.9 330.1 423.3 332 427.5 333.4C431.7 334.8 434.3 335.9 438 337.5C441.7 339.1 445.8 340.9 449.5 343C453.2 345.1 457.4 347.8 460.5 350C463.6 352.2 465.9 354.3 468 356.5C470.1 358.7 472.5 361.9 473.4 363" stroke="#80705c" stroke-width="1.9" fill="none" stroke-dasharray="7 3" stroke-linecap="round"/>
<path d="M314 338.8C315 337.9 316.2 335.2 320 333.6C323.8 332 332 330.2 336.7 329.2C341.4 328.2 344 328.2 348 327.8C352 327.4 355.1 327.2 360.5 327C365.9 326.8 374.6 326.4 380.7 326.4C386.8 326.4 391.6 326.5 397 326.8C402.4 327.1 407.7 327.1 412.8 328C417.9 328.9 423.3 330.8 427.5 332.2C431.7 333.6 434.3 334.7 438 336.3C441.7 337.9 445.8 339.7 449.5 341.8C453.2 343.9 457.4 346.6 460.5 348.8C463.6 351.1 465.9 353.1 468 355.3C470.1 357.5 472.5 360.7 473.4 361.8" stroke="#b8aa96" stroke-width="0.8" fill="none" stroke-dasharray="3 4"/>
<circle cx="319.8" cy="333.2" r="2.3" fill="url(#yel)"/><path d="M319.8 335.5v2.4" stroke="#a89a3a" stroke-width="0.8"/>
<circle cx="379.6" cy="326" r="2.3" fill="url(#yel)"/><path d="M379.6 328.3v2.4" stroke="#a89a3a" stroke-width="0.8"/>
<circle cx="426.6" cy="332" r="2.2" fill="url(#yel)"/><path d="M426.6 334.2v2.4" stroke="#a89a3a" stroke-width="0.8"/>
<circle cx="449" cy="341.2" r="2.1" fill="url(#yel)"/><path d="M449 343.3v2.4" stroke="#a89a3a" stroke-width="0.8"/>
<ellipse cx="336.7" cy="329.6" rx="2.8" ry="2.4" fill="#8a88d6"/>
<ellipse cx="359.6" cy="327.6" rx="2.4" ry="1.6" fill="#8a88d6"/>
<ellipse cx="373.4" cy="327.2" rx="2.8" ry="1.6" fill="#8a88d6"/>
<ellipse cx="392.7" cy="328" rx="2.8" ry="1.5" fill="#8a88d6"/>
<ellipse cx="412" cy="328.6" rx="3.4" ry="1.6" fill="#8a88d6"/>
<ellipse cx="443" cy="338.4" rx="2.2" ry="2" fill="#8a88d6"/>
<ellipse cx="455" cy="345" rx="2" ry="1.8" fill="#8a88d6"/>
<path d="M463.5 354.5q-1 -3.6 2.6 -4.2q0.4 -2.6 2.8 -2.6q2.6 0.4 2.2 3q2.4 1.8 0.6 4q-3.6 2.4 -8.2 -0.2z" fill="#8684d2"/>
<circle cx="354.7" cy="346" r="6.6" fill="#fdb714"/>
<circle cx="434.9" cy="368.5" r="8.4" fill="#3636a2"/>
<path d="M340.5 343.9L337.9 346.9L343.9 350.1L341.9 351.2L349 354.2L345.5 349.4L347.4 348.1Z" fill="#f21414"/>
<path d="M374.7 347.7L372.5 344.3L367.1 349.7L366.6 347.5L361 354L367.2 351.5L367.9 353.7Z" fill="#f21414"/>
<path d="M396.5 342.3L393.5 344.5L397.9 348.1L395.9 348.8L401.4 352.4L399.6 347.8L401.5 346.9Z" fill="#f21414"/>
<path d="M418.8 344.8L416.4 342L412.9 347.1L412 345.2L408.6 351.4L413.4 348.8L414.3 350.6Z" fill="#f21414"/>
<path d="M417.1 355.3L413.7 359.1L421.3 362.9L418.9 364.5L427.8 368L423.4 362L425.7 360.4Z" fill="#f21414"/>
<path d="M460.4 359.4L457.6 355L449.7 362.7L449.1 359.7L441 369L449.8 365.2L450.7 368.1Z" fill="#f21414"/>
<path d="M342.2 314.6L349 328.5L350.7 323.3L352.9 326.9L350.8 336L342.3 332.1L340.8 328.1L346 330L339.2 316Z" fill="#6a34b2"/>
<path d="M407.1 319L406.8 338.1L410.7 334.2L411 338.5L405 345.6L399.2 338.3L399.7 334L403.4 338.1L403.7 319Z" fill="#6a34b2"/>
<path d="M443 333L440.1 345.2L444.3 342.3L443.7 346.6L437 351.4L433.2 344.1L434.5 340L437 344.5L439.8 332.2Z" fill="#6a34b2"/>
<path transform="translate(343.5 315.5) rotate(-3)" d="M0 0Q-0.4 -6.5 -0.1 -12.9M0 0.4Q-1.9 -2.5 -3.2 -0.5M0 1.4Q2.5 -2.9 4.9 2l0.3 1.5M0 -1.8Q-3.5 -6.1 -4.2 -3.9l-0.3 1.5M0 -0.3Q4.1 -5.1 5 -2.6M-0.1 -4.1Q-2.6 -7.3 -3.4 -5.5l-0.3 1.5M-0.1 -2.1Q2.4 -4.8 3.8 -3.3l0.3 1.5M-0.1 -5.2Q-2.8 -8.4 -3.6 -6.2l-0.3 1.5M-0.1 -4.9Q2.6 -7.4 3.3 -5.4M-0.1 -6.7Q-1.9 -9.5 -3 -7.4M-0.1 -6Q2.1 -9.6 3.5 -7.2l0.3 1.5M-0.1 -8.8Q-2.2 -10.9 -2.7 -9.8M-0.1 -7.3Q1.9 -10.8 3.5 -7.1l0.3 1.5M-0.1 -10.8Q-1.8 -12.4 -2.4 -10.4M-0.1 -9.1Q2.4 -12.2 3.1 -9.5l0.3 1.5M-0.1 -12Q-1.4 -14.2 -2.6 -12.5M-0.1 -11.2Q1.7 -13.5 2.2 -10.4l0.3 1.5M-0.1 -12.9l-0.8 -1.5l2.2 -1l0.7 -1.1m-0.7 1.1l1.1 0.8M-0.9 -14.4l-1.7 -0.3M-0.9 -14.4l0.3 -1.5l-2.2 -1l-0.6 -1.1m0.6 1.1l-1.1 0.8M-0.7 -16l1.7 -0.3M-0.7 -16l0.9 -1.5l1.7 -0.8l0.5 -0.9m-0.5 0.9l0.9 0.6M0.2 -17.5l-1.4 -0.3M0.2 -17.5l0.2 -1.5l-1.8 -0.8l-0.5 -0.9m0.5 0.9l-0.9 0.6M0.4 -19l1.4 -0.3M0.4 -19" fill="none" stroke="#4a4aa2" stroke-width="0.7" stroke-linecap="round" stroke-linejoin="round"/>
<path transform="translate(406 311) rotate(-2)" d="M0 0Q0.4 -7.1 0.1 -14.3M0 -0.7Q-1.6 -3.2 -3.2 -1.2l-0.3 1.5M0 1.1Q2.7 -1.8 3.7 2.5M0.1 -3Q-2.3 -7.4 -4.5 -4.6l-0.3 1.5M0.1 -1.5Q3.3 -5.3 4.8 -2.3M0.1 -4.1Q-2.2 -7.3 -3.6 -4.7l-0.3 1.5M0.1 -3.1Q2.6 -7 4.2 -2.7l0.3 1.5M0.1 -6.6Q-2 -8.9 -2.9 -7.4M0.1 -5Q2.9 -8.7 4.3 -6M0.1 -8.9Q-2 -11.6 -2.5 -8.5l-0.3 1.5M0.1 -6.9Q2.6 -10.6 4.7 -8.5l0.3 1.5M0.1 -9.4Q-1.7 -11.4 -2.6 -8.1l-0.3 1.5M0.1 -8.5Q2.1 -11.7 3.5 -8.2M0.1 -11.5Q-1.8 -13.6 -2.5 -12.1M0.1 -10.7Q1.8 -13.1 2.9 -11.2l0.3 1.5M0.1 -13.4Q-1.2 -15.7 -2.3 -14M0.1 -12.5Q2.6 -15.7 3.1 -12.3M0.1 -14.3l-0.5 -1.7l1.7 -0.8l0.5 -0.9m-0.5 0.9l0.9 0.6M-0.3 -16l-1.4 -0.3M-0.3 -16l0.9 -1.7l-2.5 -1.1l-0.7 -1.2m0.7 1.2l-1.2 0.9M0.6 -17.6l2 -0.4M0.6 -17.6l-1 -1.7l2.1 -0.9l0.6 -1m-0.6 1l1 0.7M-0.4 -19.3l-1.7 -0.3M-0.4 -19.3l-1 -1.7l-2.3 -1l-0.7 -1.2m0.7 1.2l-1.2 0.8M-1.5 -21l1.9 -0.3M-1.5 -21" fill="none" stroke="#4a4aa2" stroke-width="0.7" stroke-linecap="round" stroke-linejoin="round"/>
<path transform="translate(409 378) rotate(-4)" d="M0 0Q-1.4 -8.2 -0.4 -16.3M0 -0.4Q-2.8 -3.2 -4.4 -1.7M0 1.6Q2.2 -2.4 4.2 0.3M-0.2 -2.9Q-3.9 -7.6 -5.7 -4M-0.2 -1.6Q2.7 -6.4 4.4 -2.4M-0.3 -3.7Q-2.7 -7.8 -5 -4.7M-0.3 -3.1Q3.9 -8.3 5.2 -5.4l0.3 1.5M-0.4 -6.4Q-3.8 -10 -5.3 -7M-0.4 -4.1Q3 -7.4 4.7 -1.8l0.3 1.5M-0.4 -7.9Q-3.1 -11.1 -4.2 -9.7l-0.3 1.5M-0.4 -6.1Q2.3 -9.5 3.2 -4.9M-0.5 -9.8Q-3.6 -13.7 -4.5 -10.7l-0.3 1.5M-0.5 -9.4Q2.4 -12.9 3.4 -10.7l0.3 1.5M-0.5 -11.4Q-2.7 -15.3 -4.4 -10.9M-0.5 -10.4Q1.8 -13.6 3.9 -9.9M-0.5 -14.1Q-2.7 -16.8 -3.4 -13.2M-0.5 -11.9Q2.1 -14.4 3.1 -11.5l0.3 1.5M-0.4 -16.6Q-2.1 -19.3 -3.9 -15.8l-0.3 1.5M-0.4 -15.2Q0.9 -17.1 2.2 -16.2M-0.4 -16.3l-0.5 -1.9l2.5 -1.1l0.8 -1.3m-0.8 1.3l1.3 0.9M-1 -18.2l-2 -0.4M-1 -18.2l-1 -1.9l-2.6 -1.2l-0.8 -1.3m0.8 1.3l-1.3 0.9M-2 -20.2l2.1 -0.4M-2 -20.2l-0.9 -1.9l2.1 -1l0.6 -1.1m-0.6 1.1l1.1 0.7M-2.8 -22.1l-1.7 -0.3M-2.8 -22.1l0.6 -1.9l-2.4 -1.1l-0.7 -1.2m0.7 1.2l-1.2 0.8M-2.3 -24l1.9 -0.4M-2.3 -24" fill="none" stroke="#3a3a98" stroke-width="0.75" stroke-linecap="round" stroke-linejoin="round"/>
</g>
</g>
</svg>
</body></html>
